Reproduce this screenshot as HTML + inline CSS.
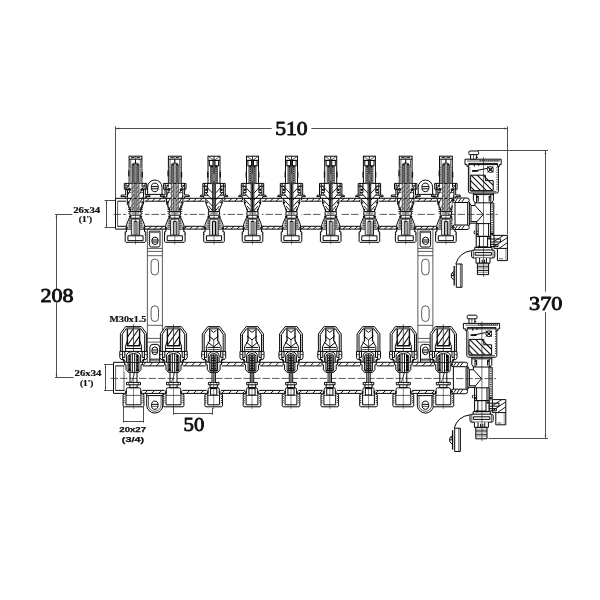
<!DOCTYPE html>
<html><head><meta charset="utf-8"><title>Manifold drawing</title>
<style>
html,body{margin:0;padding:0;background:#fff;}
body{width:600px;height:600px;overflow:hidden;font-family:"Liberation Sans",sans-serif;}
svg{display:block;filter:grayscale(1) blur(0.35px);}
.l{stroke:#080808;stroke-width:1.0;fill:none;}
.lw{stroke:#080808;stroke-width:1.0;fill:#fff;}
.t{stroke:#1a1a1a;stroke-width:0.7;fill:none;}
.h{stroke:#111;stroke-width:0.95;fill:none;}
.bs{stroke:#333;stroke-width:0.8;fill:#fff;}
.k{stroke:#111;stroke-width:1.5;fill:none;}
.d{stroke:#505050;stroke-width:1;fill:none;}
.c{stroke:#333;stroke-width:0.8;fill:none;stroke-dasharray:7.5 2;}
.g{fill:#777;stroke:none;}
.b{fill:#111;stroke:none;}
.big{font-family:"Liberation Serif",serif;font-weight:normal;font-size:19.5px;fill:#111;stroke:#111;stroke-width:0.85px;}
.sm{font-family:"Liberation Serif",serif;font-weight:bold;font-size:8.4px;fill:#111;stroke:#111;stroke-width:0.2px;}
.ss{font-family:"Liberation Sans",sans-serif;font-weight:bold;font-size:7.7px;fill:#111;stroke:#111;stroke-width:0.25px;}
</style></head><body>
<svg width="600" height="600" viewBox="0 0 600 600">
<rect x="0" y="0" width="600" height="600" fill="#fff"/>
<g id="dims">
<line x1="115.50" y1="128.50" x2="271.70" y2="128.50" class="d"/>
<line x1="311.30" y1="128.50" x2="507.50" y2="128.50" class="d"/>
<line x1="115.50" y1="126.30" x2="115.50" y2="198.30" class="d"/>
<line x1="507.50" y1="126.30" x2="507.50" y2="234.50" class="d"/>
<path d="M115.90 128.50L119.10 127.60L119.10 129.40Z" fill="#444"/>
<path d="M507.10 128.50L503.90 129.40L503.90 127.60Z" fill="#444"/>
<line x1="545.50" y1="150.50" x2="545.50" y2="291.70" class="d"/>
<line x1="545.50" y1="312.00" x2="545.50" y2="438.50" class="d"/>
<line x1="477.30" y1="150.50" x2="548.00" y2="150.50" class="d"/>
<line x1="488.50" y1="438.50" x2="548.00" y2="438.50" class="d"/>
<path d="M545.50 150.90L546.40 154.10L544.60 154.10Z" fill="#444"/>
<path d="M545.50 438.10L544.60 434.90L546.40 434.90Z" fill="#444"/>
<line x1="56.50" y1="214.50" x2="56.50" y2="289.60" class="d"/>
<line x1="56.50" y1="302.60" x2="56.50" y2="377.50" class="d"/>
<line x1="55.00" y1="214.50" x2="72.30" y2="214.50" class="d"/>
<line x1="55.00" y1="377.50" x2="73.70" y2="377.50" class="d"/>
<path d="M56.50 214.90L57.40 218.10L55.60 218.10Z" fill="#444"/>
<path d="M56.50 377.10L55.60 373.90L57.40 373.90Z" fill="#444"/>
<line x1="106.50" y1="200.50" x2="106.50" y2="227.50" class="d"/>
<line x1="104.50" y1="200.50" x2="116.00" y2="200.50" class="d"/>
<line x1="104.50" y1="227.50" x2="116.00" y2="227.50" class="d"/>
<path d="M106.50 200.90L107.30 203.50L105.70 203.50Z" fill="#444"/>
<path d="M106.50 227.10L105.70 224.50L107.30 224.50Z" fill="#444"/>
<line x1="105.50" y1="364.50" x2="105.50" y2="390.50" class="d"/>
<line x1="104.00" y1="364.50" x2="114.00" y2="364.50" class="d"/>
<line x1="104.00" y1="390.50" x2="114.00" y2="390.50" class="d"/>
<path d="M105.50 364.90L106.30 367.50L104.70 367.50Z" fill="#444"/>
<path d="M105.50 390.10L104.70 387.50L106.30 387.50Z" fill="#444"/>
<line x1="123.50" y1="421.50" x2="143.50" y2="421.50" class="d"/>
<line x1="123.50" y1="407.00" x2="123.50" y2="422.60" class="d"/>
<line x1="143.50" y1="407.00" x2="143.50" y2="422.60" class="d"/>
<path d="M123.90 421.50L126.50 420.70L126.50 422.30Z" fill="#444"/>
<path d="M143.10 421.50L140.50 422.30L140.50 420.70Z" fill="#444"/>
<line x1="173.50" y1="413.50" x2="212.50" y2="413.50" class="d"/>
<line x1="173.50" y1="386.00" x2="173.50" y2="414.80" class="d"/>
<line x1="212.50" y1="408.00" x2="212.50" y2="414.80" class="d"/>
<path d="M173.90 413.50L176.50 412.70L176.50 414.30Z" fill="#444"/>
<path d="M212.10 413.50L209.50 414.30L209.50 412.70Z" fill="#444"/>
</g>
<g>
<rect x="147.30" y="229.00" width="15.00" height="134.00" class="bs"/>
<path d="M146.20 198.3V194.4H147.60V187.2A7.2 7.2 0 0 1 162.00 187.2V194.4H163.40V198.3" class="lw"/>
<line x1="147.60" y1="194.40" x2="162.00" y2="194.40" class="l"/>
<ellipse cx="154.80" cy="187.4" rx="3.5" ry="4.3" class="lw"/>
<line x1="151.40" y1="186.60" x2="158.20" y2="186.60" class="l"/>
<line x1="151.60" y1="188.80" x2="158.00" y2="188.80" class="l"/>
<path d="M149.60 231.2H160.00V245.2Q160.00 247.0 158.20 247.0H151.40Q149.60 247.0 149.60 245.2Z" class="l"/>
<rect x="150.20" y="231.40" width="9.20" height="1.70" class="g"/>
<path d="M148.90 232V246" stroke="#888" stroke-width="0.9" fill="none" stroke-dasharray="1 1"/>
<ellipse cx="155.00" cy="240.8" rx="3.2" ry="3.7" class="lw"/>
<line x1="151.90" y1="240.00" x2="158.10" y2="240.00" class="l"/>
<line x1="152.20" y1="242.00" x2="157.80" y2="242.00" class="l"/>
<line x1="147.30" y1="248.40" x2="162.30" y2="248.40" class="bs"/>
<line x1="147.30" y1="251.40" x2="162.30" y2="251.40" class="bs"/>
<line x1="147.30" y1="255.70" x2="162.30" y2="255.70" class="bs"/>
<path d="M151.10 262.70A3.7 3.7 0 0 1 158.50 262.70V271.30A3.7 3.7 0 0 1 151.10 271.30Z" class="bs"/>
<path d="M151.10 309.50A3.7 3.7 0 0 1 158.50 309.50V317.80A3.7 3.7 0 0 1 151.10 317.80Z" class="bs"/>
<line x1="147.30" y1="325.30" x2="162.30" y2="325.30" class="bs"/>
<line x1="147.30" y1="338.40" x2="162.30" y2="338.40" class="bs"/>
<line x1="147.30" y1="342.10" x2="162.30" y2="342.10" class="bs"/>
<path d="M149.90 362V347.4Q149.90 344.4 152.90 344.4H156.70Q159.70 344.4 159.70 347.4V362" class="l"/>
<ellipse cx="154.80" cy="350.8" rx="3.0" ry="3.9" class="lw"/>
<line x1="151.90" y1="350.00" x2="157.70" y2="350.00" class="l"/>
<line x1="152.10" y1="352.20" x2="157.50" y2="352.20" class="l"/>
<line x1="149.90" y1="359.20" x2="159.70" y2="359.20" class="l"/>
<line x1="149.90" y1="360.80" x2="159.70" y2="360.80" class="t"/>
<path d="M146.70 393.2V405A8.1 8.1 0 0 0 162.90 405V393.2" class="lw"/>
<path d="M148.50 395.6V405A6.3 6.3 0 0 0 161.10 405V395.6" class="t"/>
<line x1="146.70" y1="395.60" x2="162.90" y2="395.60" class="l"/>
<ellipse cx="154.80" cy="405.2" rx="3.3" ry="4.1" class="lw"/>
<line x1="151.60" y1="404.40" x2="158.00" y2="404.40" class="l"/>
<line x1="151.80" y1="406.40" x2="157.80" y2="406.40" class="t"/>
</g>
<g>
<rect x="417.90" y="229.00" width="15.00" height="134.00" class="bs"/>
<path d="M416.80 198.3V194.4H418.20V187.2A7.2 7.2 0 0 1 432.60 187.2V194.4H434.00V198.3" class="lw"/>
<line x1="418.20" y1="194.40" x2="432.60" y2="194.40" class="l"/>
<ellipse cx="425.40" cy="187.4" rx="3.5" ry="4.3" class="lw"/>
<line x1="422.00" y1="186.60" x2="428.80" y2="186.60" class="l"/>
<line x1="422.20" y1="188.80" x2="428.60" y2="188.80" class="l"/>
<path d="M420.20 231.2H430.60V245.2Q430.60 247.0 428.80 247.0H422.00Q420.20 247.0 420.20 245.2Z" class="l"/>
<rect x="420.80" y="231.40" width="9.20" height="1.70" class="g"/>
<path d="M419.50 232V246" stroke="#888" stroke-width="0.9" fill="none" stroke-dasharray="1 1"/>
<ellipse cx="425.60" cy="240.8" rx="3.2" ry="3.7" class="lw"/>
<line x1="422.50" y1="240.00" x2="428.70" y2="240.00" class="l"/>
<line x1="422.80" y1="242.00" x2="428.40" y2="242.00" class="l"/>
<line x1="417.90" y1="248.40" x2="432.90" y2="248.40" class="bs"/>
<line x1="417.90" y1="251.40" x2="432.90" y2="251.40" class="bs"/>
<line x1="417.90" y1="255.70" x2="432.90" y2="255.70" class="bs"/>
<path d="M421.70 262.70A3.7 3.7 0 0 1 429.10 262.70V271.30A3.7 3.7 0 0 1 421.70 271.30Z" class="bs"/>
<path d="M421.70 309.50A3.7 3.7 0 0 1 429.10 309.50V317.80A3.7 3.7 0 0 1 421.70 317.80Z" class="bs"/>
<line x1="417.90" y1="325.30" x2="432.90" y2="325.30" class="bs"/>
<line x1="417.90" y1="338.40" x2="432.90" y2="338.40" class="bs"/>
<line x1="417.90" y1="342.10" x2="432.90" y2="342.10" class="bs"/>
<path d="M420.50 362V347.4Q420.50 344.4 423.50 344.4H427.30Q430.30 344.4 430.30 347.4V362" class="l"/>
<ellipse cx="425.40" cy="350.8" rx="3.0" ry="3.9" class="lw"/>
<line x1="422.50" y1="350.00" x2="428.30" y2="350.00" class="l"/>
<line x1="422.70" y1="352.20" x2="428.10" y2="352.20" class="l"/>
<line x1="420.50" y1="359.20" x2="430.30" y2="359.20" class="l"/>
<line x1="420.50" y1="360.80" x2="430.30" y2="360.80" class="t"/>
<path d="M417.30 393.2V405A8.1 8.1 0 0 0 433.50 405V393.2" class="lw"/>
<path d="M419.10 395.6V405A6.3 6.3 0 0 0 431.70 405V395.6" class="t"/>
<line x1="417.30" y1="395.60" x2="433.50" y2="395.60" class="l"/>
<ellipse cx="425.40" cy="405.2" rx="3.3" ry="4.1" class="lw"/>
<line x1="422.20" y1="404.40" x2="428.60" y2="404.40" class="l"/>
<line x1="422.40" y1="406.40" x2="428.40" y2="406.40" class="t"/>
</g>
<g>
<rect x="115.50" y="198.30" width="337.70" height="30.80" fill="#fff" stroke="none"/>
<path d="M128.50 201.20L131.80 198.30M134.40 201.20L137.70 198.30M140.30 201.20L143.60 198.30M146.20 201.20L149.50 198.30M152.10 201.20L155.40 198.30M158.00 201.20L161.30 198.30M163.90 201.20L167.20 198.30M169.80 201.20L173.10 198.30M175.70 201.20L179.00 198.30M181.60 201.20L184.90 198.30M187.50 201.20L190.80 198.30M193.40 201.20L196.70 198.30M199.30 201.20L202.60 198.30M205.20 201.20L208.50 198.30M211.10 201.20L214.40 198.30M217.00 201.20L220.30 198.30M222.90 201.20L226.20 198.30M228.80 201.20L232.10 198.30M234.70 201.20L238.00 198.30M240.60 201.20L243.90 198.30M246.50 201.20L249.80 198.30M252.40 201.20L255.70 198.30M258.30 201.20L261.60 198.30M264.20 201.20L267.50 198.30M270.10 201.20L273.40 198.30M276.00 201.20L279.30 198.30M281.90 201.20L285.20 198.30M287.80 201.20L291.10 198.30M293.70 201.20L297.00 198.30M299.60 201.20L302.90 198.30M305.50 201.20L308.80 198.30M311.40 201.20L314.70 198.30M317.30 201.20L320.60 198.30M323.20 201.20L326.50 198.30M329.10 201.20L332.40 198.30M335.00 201.20L338.30 198.30M340.90 201.20L344.20 198.30M346.80 201.20L350.10 198.30M352.70 201.20L356.00 198.30M358.60 201.20L361.90 198.30M364.50 201.20L367.80 198.30M370.40 201.20L373.70 198.30M376.30 201.20L379.60 198.30M382.20 201.20L385.50 198.30M388.10 201.20L391.40 198.30M394.00 201.20L397.30 198.30M399.90 201.20L403.20 198.30M405.80 201.20L409.10 198.30M411.70 201.20L415.00 198.30M417.60 201.20L420.90 198.30M423.50 201.20L426.80 198.30M429.40 201.20L432.70 198.30M435.30 201.20L438.60 198.30M441.20 201.20L444.50 198.30M447.10 201.20L450.40 198.30" class="h"/>
<path d="M130.50 229.10L133.80 226.30M136.40 229.10L139.70 226.30M142.30 229.10L145.60 226.30M148.20 229.10L151.50 226.30M154.10 229.10L157.40 226.30M160.00 229.10L163.30 226.30M165.90 229.10L169.20 226.30M171.80 229.10L175.10 226.30M177.70 229.10L181.00 226.30M183.60 229.10L186.90 226.30M189.50 229.10L192.80 226.30M195.40 229.10L198.70 226.30M201.30 229.10L204.60 226.30M207.20 229.10L210.50 226.30M213.10 229.10L216.40 226.30M219.00 229.10L222.30 226.30M224.90 229.10L228.20 226.30M230.80 229.10L234.10 226.30M236.70 229.10L240.00 226.30M242.60 229.10L245.90 226.30M248.50 229.10L251.80 226.30M254.40 229.10L257.70 226.30M260.30 229.10L263.60 226.30M266.20 229.10L269.50 226.30M272.10 229.10L275.40 226.30M278.00 229.10L281.30 226.30M283.90 229.10L287.20 226.30M289.80 229.10L293.10 226.30M295.70 229.10L299.00 226.30M301.60 229.10L304.90 226.30M307.50 229.10L310.80 226.30M313.40 229.10L316.70 226.30M319.30 229.10L322.60 226.30M325.20 229.10L328.50 226.30M331.10 229.10L334.40 226.30M337.00 229.10L340.30 226.30M342.90 229.10L346.20 226.30M348.80 229.10L352.10 226.30M354.70 229.10L358.00 226.30M360.60 229.10L363.90 226.30M366.50 229.10L369.80 226.30M372.40 229.10L375.70 226.30M378.30 229.10L381.60 226.30M384.20 229.10L387.50 226.30M390.10 229.10L393.40 226.30M396.00 229.10L399.30 226.30M401.90 229.10L405.20 226.30M407.80 229.10L411.10 226.30M413.70 229.10L417.00 226.30M419.60 229.10L422.90 226.30M425.50 229.10L428.80 226.30M431.40 229.10L434.70 226.30M437.30 229.10L440.60 226.30M443.20 229.10L446.50 226.30M449.10 229.10L452.40 226.30" class="h"/>
<line x1="115.50" y1="198.30" x2="453.20" y2="198.30" class="l"/>
<line x1="117.50" y1="201.20" x2="453.20" y2="201.20" class="l"/>
<line x1="117.50" y1="226.30" x2="453.20" y2="226.30" class="l"/>
<line x1="115.50" y1="229.10" x2="453.20" y2="229.10" class="l"/>
<line x1="115.50" y1="198.30" x2="115.50" y2="229.10" class="l"/>
<line x1="117.60" y1="201.20" x2="117.60" y2="226.30" class="t"/>
<line x1="126.50" y1="201.20" x2="126.50" y2="226.30" class="t"/>
<line x1="113.50" y1="214.40" x2="450.00" y2="214.40" class="c"/>
</g>
<g>
<rect x="113.50" y="362.30" width="338.10" height="31.10" fill="#fff" stroke="none"/>
<path d="M128.50 365.90L131.80 362.30M135.50 365.90L138.80 362.30M142.50 365.90L145.80 362.30M149.50 365.90L152.80 362.30M156.50 365.90L159.80 362.30M163.50 365.90L166.80 362.30M170.50 365.90L173.80 362.30M177.50 365.90L180.80 362.30M184.50 365.90L187.80 362.30M191.50 365.90L194.80 362.30M198.50 365.90L201.80 362.30M205.50 365.90L208.80 362.30M212.50 365.90L215.80 362.30M219.50 365.90L222.80 362.30M226.50 365.90L229.80 362.30M233.50 365.90L236.80 362.30M240.50 365.90L243.80 362.30M247.50 365.90L250.80 362.30M254.50 365.90L257.80 362.30M261.50 365.90L264.80 362.30M268.50 365.90L271.80 362.30M275.50 365.90L278.80 362.30M282.50 365.90L285.80 362.30M289.50 365.90L292.80 362.30M296.50 365.90L299.80 362.30M303.50 365.90L306.80 362.30M310.50 365.90L313.80 362.30M317.50 365.90L320.80 362.30M324.50 365.90L327.80 362.30M331.50 365.90L334.80 362.30M338.50 365.90L341.80 362.30M345.50 365.90L348.80 362.30M352.50 365.90L355.80 362.30M359.50 365.90L362.80 362.30M366.50 365.90L369.80 362.30M373.50 365.90L376.80 362.30M380.50 365.90L383.80 362.30M387.50 365.90L390.80 362.30M394.50 365.90L397.80 362.30M401.50 365.90L404.80 362.30M408.50 365.90L411.80 362.30M415.50 365.90L418.80 362.30M422.50 365.90L425.80 362.30M429.50 365.90L432.80 362.30M436.50 365.90L439.80 362.30M443.50 365.90L446.80 362.30" class="h"/>
<path d="M130.50 393.40L133.80 390.40M137.50 393.40L140.80 390.40M144.50 393.40L147.80 390.40M151.50 393.40L154.80 390.40M158.50 393.40L161.80 390.40M165.50 393.40L168.80 390.40M172.50 393.40L175.80 390.40M179.50 393.40L182.80 390.40M186.50 393.40L189.80 390.40M193.50 393.40L196.80 390.40M200.50 393.40L203.80 390.40M207.50 393.40L210.80 390.40M214.50 393.40L217.80 390.40M221.50 393.40L224.80 390.40M228.50 393.40L231.80 390.40M235.50 393.40L238.80 390.40M242.50 393.40L245.80 390.40M249.50 393.40L252.80 390.40M256.50 393.40L259.80 390.40M263.50 393.40L266.80 390.40M270.50 393.40L273.80 390.40M277.50 393.40L280.80 390.40M284.50 393.40L287.80 390.40M291.50 393.40L294.80 390.40M298.50 393.40L301.80 390.40M305.50 393.40L308.80 390.40M312.50 393.40L315.80 390.40M319.50 393.40L322.80 390.40M326.50 393.40L329.80 390.40M333.50 393.40L336.80 390.40M340.50 393.40L343.80 390.40M347.50 393.40L350.80 390.40M354.50 393.40L357.80 390.40M361.50 393.40L364.80 390.40M368.50 393.40L371.80 390.40M375.50 393.40L378.80 390.40M382.50 393.40L385.80 390.40M389.50 393.40L392.80 390.40M396.50 393.40L399.80 390.40M403.50 393.40L406.80 390.40M410.50 393.40L413.80 390.40M417.50 393.40L420.80 390.40M424.50 393.40L427.80 390.40M431.50 393.40L434.80 390.40M438.50 393.40L441.80 390.40M445.50 393.40L448.80 390.40" class="h"/>
<line x1="113.50" y1="362.30" x2="451.60" y2="362.30" class="l"/>
<line x1="115.50" y1="365.90" x2="451.60" y2="365.90" class="l"/>
<line x1="115.50" y1="390.40" x2="451.60" y2="390.40" class="l"/>
<line x1="113.50" y1="393.40" x2="451.60" y2="393.40" class="l"/>
<line x1="113.50" y1="362.30" x2="113.50" y2="393.40" class="l"/>
<line x1="115.60" y1="365.90" x2="115.60" y2="390.40" class="t"/>
<line x1="124.00" y1="365.90" x2="124.00" y2="390.40" class="t"/>
<line x1="110.50" y1="378.40" x2="448.00" y2="378.40" class="c"/>
</g>
<g transform="translate(135.50 0)">
<path d="M-9.4 197.4H9.4V230H-9.4Z" fill="#fff" stroke="none"/>
<path d="M-9.0 229.1V231.8H-10.3V241.4L-9.5 242.3H9.5L10.3 241.4V231.8H9.0V229.1" class="lw"/>
<path d="M-7.6 235.8V240.6H7.6V235.8" class="l"/>
<line x1="-7.60" y1="235.80" x2="7.60" y2="235.80" class="l"/>
<path d="M-10.3 233.4L-9.5 234.2L-10.3 235M10.3 233.4L9.5 234.2L10.3 235" class="t"/>
<path d="M-6.3 218.2L-8.8 224.3L-9.5 229.1H9.5L8.8 224.3L6.3 218.2Z" class="lw"/>
<path d="M-5.9 219.4L-8.2 225.2V228.6H-4.6V219.4ZM5.9 219.4L8.2 225.2V228.6H4.6V219.4Z" fill="#b0b0b0" stroke="none"/>
<path d="M-5.6 219.6V228.4M5.6 219.6V228.4" stroke="#333" stroke-width="1.8" fill="none" stroke-dasharray="0.8 1.0"/>
<path d="M-4.1 235.0V220.2Q-4.1 219.0 -2.9 219.0H2.9Q4.1 219.0 4.1 220.2V235.0" class="lw"/>
<path d="M-1.5 235.0V221.4H1.5V235.0" class="l"/>
<rect x="2.00" y="221.40" width="1.70" height="13.40" fill="#aaa" stroke="none"/>
<rect x="-3.70" y="221.40" width="1.70" height="13.40" fill="#e4e4e4" stroke="none"/>
<line x1="-4.10" y1="235.00" x2="4.10" y2="235.00" class="t"/>
<circle cx="-5.30" cy="216.80" r="1.30" class="b"/>
<circle cx="5.30" cy="216.80" r="1.30" class="b"/>
<circle cx="-8.60" cy="227.90" r="1.00" class="b"/>
<circle cx="8.60" cy="227.90" r="1.00" class="b"/>
<path d="M-5.6 211.6H5.6V215.2H-5.6Z" class="lw"/>
<rect x="-3.60" y="212.40" width="7.20" height="2.00" fill="#999" stroke="none"/>
<path d="M-8.2 198.3V203.0L-5.6 209.4L-5.0 211.6H5.0L5.6 209.4L8.2 203.0V198.3Z" class="lw"/>
<circle cx="-7.20" cy="202.60" r="1.00" class="b"/>
<circle cx="7.20" cy="202.60" r="1.00" class="b"/>
<circle cx="-5.20" cy="209.60" r="0.90" class="b"/>
<circle cx="5.20" cy="209.60" r="0.90" class="b"/>
<path d="M-11.2 183.4H11.2V189.2H9.8V195.0H14.2L14.6 196.6H9.8V198.3H-9.8V196.6H-14.6L-14.2 195.0H-9.8V189.2H-11.2Z" class="lw"/>
<path d="M-9.6 183.4V189.2M9.6 183.4V189.2" class="l"/>
<path d="M-6.6 183.4V187.4M6.6 183.4V187.4" class="l"/>
<path d="M-9.6 185.6H-6.6M9.6 185.6H6.6" class="t"/>
<line x1="-9.80" y1="189.20" x2="-5.00" y2="189.20" class="l"/>
<line x1="9.80" y1="189.20" x2="5.00" y2="189.20" class="l"/>
<circle cx="-6.20" cy="189.40" r="1.30" class="b"/>
<circle cx="6.20" cy="189.80" r="1.30" class="b"/>
<path d="M-8.0 189.2V197.6M8.0 189.2V197.6" class="l"/>
<path d="M-8.0 192.6H-4.4M8.0 192.6H4.4" class="t"/>
<rect x="-6.40" y="156.20" width="12.80" height="27.20" class="lw"/>
<line x1="-6.40" y1="159.20" x2="6.40" y2="159.20" class="l"/>
<path d="M-4.4 157.7H-1.0M1.0 157.7H4.4" class="l"/>
<path d="M-4.8 159.2V183.4M4.8 159.2V183.4" class="t"/>
<rect x="-6.00" y="167.00" width="1.50" height="16.40" fill="#b5b5b5" stroke="none"/>
<rect x="4.50" y="167.00" width="1.50" height="16.40" fill="#b5b5b5" stroke="none"/>
<path d="M-5.25 167V183.4M5.25 167V183.4" stroke="#555" stroke-width="1.3" fill="none" stroke-dasharray="0.8 1.1"/>
<rect x="-3.50" y="164.60" width="2.30" height="19.40" fill="#858585" stroke="none"/>
<rect x="1.20" y="164.60" width="2.30" height="19.40" fill="#858585" stroke="none"/>
<rect x="-3.50" y="184.00" width="2.30" height="27.00" fill="#c4c4c4" stroke="none"/>
<rect x="1.20" y="184.00" width="2.30" height="27.00" fill="#c4c4c4" stroke="none"/>
<path d="M-3.5 164.6V211M-1.2 162.4V211M1.2 162.4V211M3.5 164.6V211" stroke="#1a1a1a" stroke-width="0.65" fill="none"/>
<path d="M-3.5 167.60L-1.2 164.80M1.2 167.60L3.5 164.80M-3.5 170.00L-1.2 167.20M1.2 170.00L3.5 167.20M-3.5 172.40L-1.2 169.60M1.2 172.40L3.5 169.60M-3.5 174.80L-1.2 172.00M1.2 174.80L3.5 172.00M-3.5 177.20L-1.2 174.40M1.2 177.20L3.5 174.40M-3.5 179.60L-1.2 176.80M1.2 179.60L3.5 176.80M-3.5 182.00L-1.2 179.20M1.2 182.00L3.5 179.20M-3.5 184.40L-1.2 181.60M1.2 184.40L3.5 181.60" stroke="#333" stroke-width="0.7" fill="none"/>
<path d="M-3.5 189.00L-1.2 185.60M1.2 189.00L3.5 185.60M-3.5 193.20L-1.2 189.80M1.2 193.20L3.5 189.80M-3.5 197.40L-1.2 194.00M1.2 197.40L3.5 194.00M-3.5 201.60L-1.2 198.20M1.2 201.60L3.5 198.20M-3.5 205.80L-1.2 202.40M1.2 205.80L3.5 202.40M-3.5 210.00L-1.2 206.60M1.2 210.00L3.5 206.60" stroke="#333" stroke-width="0.7" fill="none"/>
<rect x="-3.30" y="163.40" width="2.10" height="1.90" class="b"/>
<rect x="1.20" y="163.40" width="2.10" height="1.90" class="b"/>
<line x1="0.00" y1="159.20" x2="0.00" y2="164.00" class="l"/>
<rect x="-7.30" y="170.40" width="1.20" height="6.00" class="b"/>
<rect x="6.10" y="171.80" width="1.30" height="5.80" class="b"/>
<path d="M-9.0 197.0L-4.2 188.4M4.2 193.6L9.0 185.4M-8.2 204.6L-4.2 198.0M4.2 203.0L8.2 196.0M-6.4 210.0L-4.2 206.4M4.2 209.6L6.6 205.0M-10.0 190.6L-7.0 185.2" class="h"/>
<path d="M-6.6 201.6V213.4M6.6 201.6V213.4" stroke="#222" stroke-width="1.7" fill="none" stroke-dasharray="0.9 1.0"/>
<line x1="0.00" y1="156.20" x2="0.00" y2="244.50" class="t" opacity="0.75"/>
</g>
<g transform="translate(174.80 0)">
<path d="M-9.4 197.4H9.4V230H-9.4Z" fill="#fff" stroke="none"/>
<path d="M-9.0 229.1V231.8H-10.3V241.4L-9.5 242.3H9.5L10.3 241.4V231.8H9.0V229.1" class="lw"/>
<path d="M-7.6 235.8V240.6H7.6V235.8" class="l"/>
<line x1="-7.60" y1="235.80" x2="7.60" y2="235.80" class="l"/>
<path d="M-10.3 233.4L-9.5 234.2L-10.3 235M10.3 233.4L9.5 234.2L10.3 235" class="t"/>
<path d="M-6.3 218.2L-8.8 224.3L-9.5 229.1H9.5L8.8 224.3L6.3 218.2Z" class="lw"/>
<path d="M-5.9 219.4L-8.2 225.2V228.6H-4.6V219.4ZM5.9 219.4L8.2 225.2V228.6H4.6V219.4Z" fill="#b0b0b0" stroke="none"/>
<path d="M-5.6 219.6V228.4M5.6 219.6V228.4" stroke="#333" stroke-width="1.8" fill="none" stroke-dasharray="0.8 1.0"/>
<path d="M-4.1 235.0V220.2Q-4.1 219.0 -2.9 219.0H2.9Q4.1 219.0 4.1 220.2V235.0" class="lw"/>
<path d="M-1.5 235.0V221.4H1.5V235.0" class="l"/>
<rect x="2.00" y="221.40" width="1.70" height="13.40" fill="#aaa" stroke="none"/>
<rect x="-3.70" y="221.40" width="1.70" height="13.40" fill="#e4e4e4" stroke="none"/>
<line x1="-4.10" y1="235.00" x2="4.10" y2="235.00" class="t"/>
<circle cx="-5.30" cy="216.80" r="1.30" class="b"/>
<circle cx="5.30" cy="216.80" r="1.30" class="b"/>
<circle cx="-8.60" cy="227.90" r="1.00" class="b"/>
<circle cx="8.60" cy="227.90" r="1.00" class="b"/>
<path d="M-5.6 211.6H5.6V215.2H-5.6Z" class="lw"/>
<rect x="-3.60" y="212.40" width="7.20" height="2.00" fill="#999" stroke="none"/>
<path d="M-8.2 198.3V203.0L-5.6 209.4L-5.0 211.6H5.0L5.6 209.4L8.2 203.0V198.3Z" class="lw"/>
<circle cx="-7.20" cy="202.60" r="1.00" class="b"/>
<circle cx="7.20" cy="202.60" r="1.00" class="b"/>
<circle cx="-5.20" cy="209.60" r="0.90" class="b"/>
<circle cx="5.20" cy="209.60" r="0.90" class="b"/>
<path d="M-11.2 183.4H11.2V189.2H9.8V195.0H14.2L14.6 196.6H9.8V198.3H-9.8V196.6H-14.6L-14.2 195.0H-9.8V189.2H-11.2Z" class="lw"/>
<path d="M-9.6 183.4V189.2M9.6 183.4V189.2" class="l"/>
<path d="M-6.6 183.4V187.4M6.6 183.4V187.4" class="l"/>
<path d="M-9.6 185.6H-6.6M9.6 185.6H6.6" class="t"/>
<line x1="-9.80" y1="189.20" x2="-5.00" y2="189.20" class="l"/>
<line x1="9.80" y1="189.20" x2="5.00" y2="189.20" class="l"/>
<circle cx="-6.20" cy="189.40" r="1.30" class="b"/>
<circle cx="6.20" cy="189.80" r="1.30" class="b"/>
<path d="M-8.0 189.2V197.6M8.0 189.2V197.6" class="l"/>
<path d="M-8.0 192.6H-4.4M8.0 192.6H4.4" class="t"/>
<rect x="-6.40" y="156.20" width="12.80" height="27.20" class="lw"/>
<line x1="-6.40" y1="159.20" x2="6.40" y2="159.20" class="l"/>
<path d="M-4.4 157.7H-1.0M1.0 157.7H4.4" class="l"/>
<path d="M-4.8 159.2V183.4M4.8 159.2V183.4" class="t"/>
<rect x="-6.00" y="167.00" width="1.50" height="16.40" fill="#b5b5b5" stroke="none"/>
<rect x="4.50" y="167.00" width="1.50" height="16.40" fill="#b5b5b5" stroke="none"/>
<path d="M-5.25 167V183.4M5.25 167V183.4" stroke="#555" stroke-width="1.3" fill="none" stroke-dasharray="0.8 1.1"/>
<rect x="-3.50" y="164.60" width="2.30" height="19.40" fill="#858585" stroke="none"/>
<rect x="1.20" y="164.60" width="2.30" height="19.40" fill="#858585" stroke="none"/>
<rect x="-3.50" y="184.00" width="2.30" height="27.00" fill="#c4c4c4" stroke="none"/>
<rect x="1.20" y="184.00" width="2.30" height="27.00" fill="#c4c4c4" stroke="none"/>
<path d="M-3.5 164.6V211M-1.2 162.4V211M1.2 162.4V211M3.5 164.6V211" stroke="#1a1a1a" stroke-width="0.65" fill="none"/>
<path d="M-3.5 167.60L-1.2 164.80M1.2 167.60L3.5 164.80M-3.5 170.00L-1.2 167.20M1.2 170.00L3.5 167.20M-3.5 172.40L-1.2 169.60M1.2 172.40L3.5 169.60M-3.5 174.80L-1.2 172.00M1.2 174.80L3.5 172.00M-3.5 177.20L-1.2 174.40M1.2 177.20L3.5 174.40M-3.5 179.60L-1.2 176.80M1.2 179.60L3.5 176.80M-3.5 182.00L-1.2 179.20M1.2 182.00L3.5 179.20M-3.5 184.40L-1.2 181.60M1.2 184.40L3.5 181.60" stroke="#333" stroke-width="0.7" fill="none"/>
<path d="M-3.5 189.00L-1.2 185.60M1.2 189.00L3.5 185.60M-3.5 193.20L-1.2 189.80M1.2 193.20L3.5 189.80M-3.5 197.40L-1.2 194.00M1.2 197.40L3.5 194.00M-3.5 201.60L-1.2 198.20M1.2 201.60L3.5 198.20M-3.5 205.80L-1.2 202.40M1.2 205.80L3.5 202.40M-3.5 210.00L-1.2 206.60M1.2 210.00L3.5 206.60" stroke="#333" stroke-width="0.7" fill="none"/>
<rect x="-3.30" y="163.40" width="2.10" height="1.90" class="b"/>
<rect x="1.20" y="163.40" width="2.10" height="1.90" class="b"/>
<line x1="0.00" y1="159.20" x2="0.00" y2="164.00" class="l"/>
<rect x="-7.30" y="170.40" width="1.20" height="6.00" class="b"/>
<rect x="6.10" y="171.80" width="1.30" height="5.80" class="b"/>
<path d="M-9.0 197.0L-4.2 188.4M4.2 193.6L9.0 185.4M-8.2 204.6L-4.2 198.0M4.2 203.0L8.2 196.0M-6.4 210.0L-4.2 206.4M4.2 209.6L6.6 205.0M-10.0 190.6L-7.0 185.2" class="h"/>
<path d="M-6.6 201.6V213.4M6.6 201.6V213.4" stroke="#222" stroke-width="1.7" fill="none" stroke-dasharray="0.9 1.0"/>
<line x1="0.00" y1="156.20" x2="0.00" y2="244.50" class="t" opacity="0.75"/>
</g>
<g transform="translate(214.00 0)">
<path d="M-9.4 197.4H9.4V230H-9.4Z" fill="#fff" stroke="none"/>
<path d="M-9.0 229.1V231.8H-10.3V241.4L-9.5 242.3H9.5L10.3 241.4V231.8H9.0V229.1" class="lw"/>
<path d="M-7.6 235.8V240.6H7.6V235.8" class="l"/>
<line x1="-7.60" y1="235.80" x2="7.60" y2="235.80" class="l"/>
<path d="M-10.3 233.4L-9.5 234.2L-10.3 235M10.3 233.4L9.5 234.2L10.3 235" class="t"/>
<path d="M-6.3 218.2L-8.8 224.3L-9.5 229.1H9.5L8.8 224.3L6.3 218.2Z" class="lw"/>
<path d="M-5.9 219.4L-8.2 225.2V228.6H-4.6V219.4ZM5.9 219.4L8.2 225.2V228.6H4.6V219.4Z" fill="#b0b0b0" stroke="none"/>
<path d="M-5.6 219.6V228.4M5.6 219.6V228.4" stroke="#333" stroke-width="1.8" fill="none" stroke-dasharray="0.8 1.0"/>
<path d="M-4.1 235.0V220.2Q-4.1 219.0 -2.9 219.0H2.9Q4.1 219.0 4.1 220.2V235.0" class="lw"/>
<path d="M-1.5 235.0V221.4H1.5V235.0" class="l"/>
<rect x="2.00" y="221.40" width="1.70" height="13.40" fill="#aaa" stroke="none"/>
<rect x="-3.70" y="221.40" width="1.70" height="13.40" fill="#e4e4e4" stroke="none"/>
<line x1="-4.10" y1="235.00" x2="4.10" y2="235.00" class="t"/>
<circle cx="-5.30" cy="216.80" r="1.30" class="b"/>
<circle cx="5.30" cy="216.80" r="1.30" class="b"/>
<circle cx="-8.60" cy="227.90" r="1.00" class="b"/>
<circle cx="8.60" cy="227.90" r="1.00" class="b"/>
<path d="M-5.6 211.6H5.6V215.2H-5.6Z" class="lw"/>
<rect x="-3.60" y="212.40" width="7.20" height="2.00" fill="#999" stroke="none"/>
<path d="M-8.2 198.3V203.0L-5.6 209.4L-5.0 211.6H5.0L5.6 209.4L8.2 203.0V198.3Z" class="lw"/>
<circle cx="-7.20" cy="202.60" r="1.00" class="b"/>
<circle cx="7.20" cy="202.60" r="1.00" class="b"/>
<circle cx="-5.20" cy="209.60" r="0.90" class="b"/>
<circle cx="5.20" cy="209.60" r="0.90" class="b"/>
<path d="M-11.2 183.4H11.2V195.2H13.4L13.9 196.6H10.2V198.3H-10.2V196.6H-13.9L-13.4 195.2H-11.2Z" class="lw"/>
<path d="M-9.4 183.4V195.2M9.4 183.4V195.2" class="l"/>
<path d="M-11.2 186.2H-6.4M11.2 186.2H6.4" class="l"/>
<path d="M-6.4 183.4V192.6H-9.4M6.4 183.4V192.6H9.4" class="l"/>
<circle cx="-7.60" cy="189.80" r="1.20" class="b"/>
<circle cx="7.60" cy="189.80" r="1.20" class="b"/>
<path d="M-11.2 195.2H-6.0M11.2 195.2H6.0" class="l"/>
<rect x="-6.00" y="156.20" width="12.00" height="27.20" class="lw"/>
<path d="M-6.0 156.2L0 160.4L6.0 156.2" class="t"/>
<line x1="-6.00" y1="160.40" x2="6.00" y2="160.40" class="l"/>
<line x1="0.00" y1="156.20" x2="0.00" y2="166.00" class="t"/>
<rect x="-4.60" y="160.40" width="3.60" height="5.40" class="l"/>
<rect x="1.00" y="160.40" width="3.60" height="5.40" class="l"/>
<rect x="-3.60" y="165.80" width="7.20" height="18.00" fill="#939393" stroke="#222" stroke-width="0.6"/>
<rect x="-3.00" y="165.80" width="2.20" height="1.70" class="b"/>
<rect x="0.80" y="165.80" width="2.20" height="1.70" class="b"/>
<path d="M-2.2 167.5V184M2.2 167.5V184" stroke="#2a2a2a" stroke-width="1.3" fill="none" stroke-dasharray="1.0 0.8"/>
<path d="M-0.7 167.5V184M0.7 167.5V184" stroke="#222" stroke-width="0.6" fill="none"/>
<line x1="0.00" y1="174.00" x2="0.00" y2="181.00" stroke="#fff" stroke-width="0.9"/>
<rect x="-6.90" y="171.60" width="1.30" height="6.00" class="b"/>
<rect x="5.60" y="171.60" width="1.30" height="6.00" class="b"/>
<path d="M-1.3 184V211M1.3 184V211" class="l"/>
<line x1="0.00" y1="184.00" x2="0.00" y2="211.60" stroke="#111" stroke-width="1.0"/>
<path d="M-8.6 185.6L-1.4 193.2M8.6 185.6L1.4 193.2M-8.4 192.6L-1.4 200.2M8.4 192.6L1.4 200.2M-7.6 199.6L-1.4 206.4M7.6 199.6L1.4 206.4M-5.4 206.0L-1.4 210.8M5.4 206.0L1.4 210.8" class="h"/>
<line x1="0.00" y1="156.20" x2="0.00" y2="244.50" class="t" opacity="0.75"/>
</g>
<g transform="translate(252.50 0)">
<path d="M-9.4 197.4H9.4V230H-9.4Z" fill="#fff" stroke="none"/>
<path d="M-9.0 229.1V231.8H-10.3V241.4L-9.5 242.3H9.5L10.3 241.4V231.8H9.0V229.1" class="lw"/>
<path d="M-7.6 235.8V240.6H7.6V235.8" class="l"/>
<line x1="-7.60" y1="235.80" x2="7.60" y2="235.80" class="l"/>
<path d="M-10.3 233.4L-9.5 234.2L-10.3 235M10.3 233.4L9.5 234.2L10.3 235" class="t"/>
<path d="M-6.3 218.2L-8.8 224.3L-9.5 229.1H9.5L8.8 224.3L6.3 218.2Z" class="lw"/>
<path d="M-5.9 219.4L-8.2 225.2V228.6H-4.6V219.4ZM5.9 219.4L8.2 225.2V228.6H4.6V219.4Z" fill="#b0b0b0" stroke="none"/>
<path d="M-5.6 219.6V228.4M5.6 219.6V228.4" stroke="#333" stroke-width="1.8" fill="none" stroke-dasharray="0.8 1.0"/>
<path d="M-4.1 235.0V220.2Q-4.1 219.0 -2.9 219.0H2.9Q4.1 219.0 4.1 220.2V235.0" class="lw"/>
<path d="M-1.5 235.0V221.4H1.5V235.0" class="l"/>
<rect x="2.00" y="221.40" width="1.70" height="13.40" fill="#aaa" stroke="none"/>
<rect x="-3.70" y="221.40" width="1.70" height="13.40" fill="#e4e4e4" stroke="none"/>
<line x1="-4.10" y1="235.00" x2="4.10" y2="235.00" class="t"/>
<circle cx="-5.30" cy="216.80" r="1.30" class="b"/>
<circle cx="5.30" cy="216.80" r="1.30" class="b"/>
<circle cx="-8.60" cy="227.90" r="1.00" class="b"/>
<circle cx="8.60" cy="227.90" r="1.00" class="b"/>
<path d="M-5.6 211.6H5.6V215.2H-5.6Z" class="lw"/>
<rect x="-3.60" y="212.40" width="7.20" height="2.00" fill="#999" stroke="none"/>
<path d="M-8.2 198.3V203.0L-5.6 209.4L-5.0 211.6H5.0L5.6 209.4L8.2 203.0V198.3Z" class="lw"/>
<circle cx="-7.20" cy="202.60" r="1.00" class="b"/>
<circle cx="7.20" cy="202.60" r="1.00" class="b"/>
<circle cx="-5.20" cy="209.60" r="0.90" class="b"/>
<circle cx="5.20" cy="209.60" r="0.90" class="b"/>
<path d="M-11.2 183.4H11.2V195.2H13.4L13.9 196.6H10.2V198.3H-10.2V196.6H-13.9L-13.4 195.2H-11.2Z" class="lw"/>
<path d="M-9.4 183.4V195.2M9.4 183.4V195.2" class="l"/>
<path d="M-11.2 186.2H-6.4M11.2 186.2H6.4" class="l"/>
<path d="M-6.4 183.4V192.6H-9.4M6.4 183.4V192.6H9.4" class="l"/>
<circle cx="-7.60" cy="189.80" r="1.20" class="b"/>
<circle cx="7.60" cy="189.80" r="1.20" class="b"/>
<path d="M-11.2 195.2H-6.0M11.2 195.2H6.0" class="l"/>
<rect x="-6.00" y="156.20" width="12.00" height="27.20" class="lw"/>
<path d="M-6.0 156.2L0 160.4L6.0 156.2" class="t"/>
<line x1="-6.00" y1="160.40" x2="6.00" y2="160.40" class="l"/>
<line x1="0.00" y1="156.20" x2="0.00" y2="166.00" class="t"/>
<rect x="-4.60" y="160.40" width="3.60" height="5.40" class="l"/>
<rect x="1.00" y="160.40" width="3.60" height="5.40" class="l"/>
<rect x="-3.60" y="165.80" width="7.20" height="18.00" fill="#939393" stroke="#222" stroke-width="0.6"/>
<rect x="-3.00" y="165.80" width="2.20" height="1.70" class="b"/>
<rect x="0.80" y="165.80" width="2.20" height="1.70" class="b"/>
<path d="M-2.2 167.5V184M2.2 167.5V184" stroke="#2a2a2a" stroke-width="1.3" fill="none" stroke-dasharray="1.0 0.8"/>
<path d="M-0.7 167.5V184M0.7 167.5V184" stroke="#222" stroke-width="0.6" fill="none"/>
<line x1="0.00" y1="174.00" x2="0.00" y2="181.00" stroke="#fff" stroke-width="0.9"/>
<rect x="-6.90" y="171.60" width="1.30" height="6.00" class="b"/>
<rect x="5.60" y="171.60" width="1.30" height="6.00" class="b"/>
<path d="M-1.3 184V211M1.3 184V211" class="l"/>
<line x1="0.00" y1="184.00" x2="0.00" y2="211.60" stroke="#111" stroke-width="1.0"/>
<path d="M-8.6 185.6L-1.4 193.2M8.6 185.6L1.4 193.2M-8.4 192.6L-1.4 200.2M8.4 192.6L1.4 200.2M-7.6 199.6L-1.4 206.4M7.6 199.6L1.4 206.4M-5.4 206.0L-1.4 210.8M5.4 206.0L1.4 210.8" class="h"/>
<line x1="0.00" y1="156.20" x2="0.00" y2="244.50" class="t" opacity="0.75"/>
</g>
<g transform="translate(291.50 0)">
<path d="M-9.4 197.4H9.4V230H-9.4Z" fill="#fff" stroke="none"/>
<path d="M-9.0 229.1V231.8H-10.3V241.4L-9.5 242.3H9.5L10.3 241.4V231.8H9.0V229.1" class="lw"/>
<path d="M-7.6 235.8V240.6H7.6V235.8" class="l"/>
<line x1="-7.60" y1="235.80" x2="7.60" y2="235.80" class="l"/>
<path d="M-10.3 233.4L-9.5 234.2L-10.3 235M10.3 233.4L9.5 234.2L10.3 235" class="t"/>
<path d="M-6.3 218.2L-8.8 224.3L-9.5 229.1H9.5L8.8 224.3L6.3 218.2Z" class="lw"/>
<path d="M-5.9 219.4L-8.2 225.2V228.6H-4.6V219.4ZM5.9 219.4L8.2 225.2V228.6H4.6V219.4Z" fill="#b0b0b0" stroke="none"/>
<path d="M-5.6 219.6V228.4M5.6 219.6V228.4" stroke="#333" stroke-width="1.8" fill="none" stroke-dasharray="0.8 1.0"/>
<path d="M-4.1 235.0V220.2Q-4.1 219.0 -2.9 219.0H2.9Q4.1 219.0 4.1 220.2V235.0" class="lw"/>
<path d="M-1.5 235.0V221.4H1.5V235.0" class="l"/>
<rect x="2.00" y="221.40" width="1.70" height="13.40" fill="#aaa" stroke="none"/>
<rect x="-3.70" y="221.40" width="1.70" height="13.40" fill="#e4e4e4" stroke="none"/>
<line x1="-4.10" y1="235.00" x2="4.10" y2="235.00" class="t"/>
<circle cx="-5.30" cy="216.80" r="1.30" class="b"/>
<circle cx="5.30" cy="216.80" r="1.30" class="b"/>
<circle cx="-8.60" cy="227.90" r="1.00" class="b"/>
<circle cx="8.60" cy="227.90" r="1.00" class="b"/>
<path d="M-5.6 211.6H5.6V215.2H-5.6Z" class="lw"/>
<rect x="-3.60" y="212.40" width="7.20" height="2.00" fill="#999" stroke="none"/>
<path d="M-8.2 198.3V203.0L-5.6 209.4L-5.0 211.6H5.0L5.6 209.4L8.2 203.0V198.3Z" class="lw"/>
<circle cx="-7.20" cy="202.60" r="1.00" class="b"/>
<circle cx="7.20" cy="202.60" r="1.00" class="b"/>
<circle cx="-5.20" cy="209.60" r="0.90" class="b"/>
<circle cx="5.20" cy="209.60" r="0.90" class="b"/>
<path d="M-11.2 183.4H11.2V195.2H13.4L13.9 196.6H10.2V198.3H-10.2V196.6H-13.9L-13.4 195.2H-11.2Z" class="lw"/>
<path d="M-9.4 183.4V195.2M9.4 183.4V195.2" class="l"/>
<path d="M-11.2 186.2H-6.4M11.2 186.2H6.4" class="l"/>
<path d="M-6.4 183.4V192.6H-9.4M6.4 183.4V192.6H9.4" class="l"/>
<circle cx="-7.60" cy="189.80" r="1.20" class="b"/>
<circle cx="7.60" cy="189.80" r="1.20" class="b"/>
<path d="M-11.2 195.2H-6.0M11.2 195.2H6.0" class="l"/>
<rect x="-6.00" y="156.20" width="12.00" height="27.20" class="lw"/>
<path d="M-6.0 156.2L0 160.4L6.0 156.2" class="t"/>
<line x1="-6.00" y1="160.40" x2="6.00" y2="160.40" class="l"/>
<line x1="0.00" y1="156.20" x2="0.00" y2="166.00" class="t"/>
<rect x="-4.60" y="160.40" width="3.60" height="5.40" class="l"/>
<rect x="1.00" y="160.40" width="3.60" height="5.40" class="l"/>
<rect x="-3.60" y="165.80" width="7.20" height="18.00" fill="#939393" stroke="#222" stroke-width="0.6"/>
<rect x="-3.00" y="165.80" width="2.20" height="1.70" class="b"/>
<rect x="0.80" y="165.80" width="2.20" height="1.70" class="b"/>
<path d="M-2.2 167.5V184M2.2 167.5V184" stroke="#2a2a2a" stroke-width="1.3" fill="none" stroke-dasharray="1.0 0.8"/>
<path d="M-0.7 167.5V184M0.7 167.5V184" stroke="#222" stroke-width="0.6" fill="none"/>
<line x1="0.00" y1="174.00" x2="0.00" y2="181.00" stroke="#fff" stroke-width="0.9"/>
<rect x="-6.90" y="171.60" width="1.30" height="6.00" class="b"/>
<rect x="5.60" y="171.60" width="1.30" height="6.00" class="b"/>
<path d="M-1.3 184V211M1.3 184V211" class="l"/>
<line x1="0.00" y1="184.00" x2="0.00" y2="211.60" stroke="#111" stroke-width="1.0"/>
<path d="M-8.6 185.6L-1.4 193.2M8.6 185.6L1.4 193.2M-8.4 192.6L-1.4 200.2M8.4 192.6L1.4 200.2M-7.6 199.6L-1.4 206.4M7.6 199.6L1.4 206.4M-5.4 206.0L-1.4 210.8M5.4 206.0L1.4 210.8" class="h"/>
<line x1="0.00" y1="156.20" x2="0.00" y2="244.50" class="t" opacity="0.75"/>
</g>
<g transform="translate(330.70 0)">
<path d="M-9.4 197.4H9.4V230H-9.4Z" fill="#fff" stroke="none"/>
<path d="M-9.0 229.1V231.8H-10.3V241.4L-9.5 242.3H9.5L10.3 241.4V231.8H9.0V229.1" class="lw"/>
<path d="M-7.6 235.8V240.6H7.6V235.8" class="l"/>
<line x1="-7.60" y1="235.80" x2="7.60" y2="235.80" class="l"/>
<path d="M-10.3 233.4L-9.5 234.2L-10.3 235M10.3 233.4L9.5 234.2L10.3 235" class="t"/>
<path d="M-6.3 218.2L-8.8 224.3L-9.5 229.1H9.5L8.8 224.3L6.3 218.2Z" class="lw"/>
<path d="M-5.9 219.4L-8.2 225.2V228.6H-4.6V219.4ZM5.9 219.4L8.2 225.2V228.6H4.6V219.4Z" fill="#b0b0b0" stroke="none"/>
<path d="M-5.6 219.6V228.4M5.6 219.6V228.4" stroke="#333" stroke-width="1.8" fill="none" stroke-dasharray="0.8 1.0"/>
<path d="M-4.1 235.0V220.2Q-4.1 219.0 -2.9 219.0H2.9Q4.1 219.0 4.1 220.2V235.0" class="lw"/>
<path d="M-1.5 235.0V221.4H1.5V235.0" class="l"/>
<rect x="2.00" y="221.40" width="1.70" height="13.40" fill="#aaa" stroke="none"/>
<rect x="-3.70" y="221.40" width="1.70" height="13.40" fill="#e4e4e4" stroke="none"/>
<line x1="-4.10" y1="235.00" x2="4.10" y2="235.00" class="t"/>
<circle cx="-5.30" cy="216.80" r="1.30" class="b"/>
<circle cx="5.30" cy="216.80" r="1.30" class="b"/>
<circle cx="-8.60" cy="227.90" r="1.00" class="b"/>
<circle cx="8.60" cy="227.90" r="1.00" class="b"/>
<path d="M-5.6 211.6H5.6V215.2H-5.6Z" class="lw"/>
<rect x="-3.60" y="212.40" width="7.20" height="2.00" fill="#999" stroke="none"/>
<path d="M-8.2 198.3V203.0L-5.6 209.4L-5.0 211.6H5.0L5.6 209.4L8.2 203.0V198.3Z" class="lw"/>
<circle cx="-7.20" cy="202.60" r="1.00" class="b"/>
<circle cx="7.20" cy="202.60" r="1.00" class="b"/>
<circle cx="-5.20" cy="209.60" r="0.90" class="b"/>
<circle cx="5.20" cy="209.60" r="0.90" class="b"/>
<path d="M-11.2 183.4H11.2V195.2H13.4L13.9 196.6H10.2V198.3H-10.2V196.6H-13.9L-13.4 195.2H-11.2Z" class="lw"/>
<path d="M-9.4 183.4V195.2M9.4 183.4V195.2" class="l"/>
<path d="M-11.2 186.2H-6.4M11.2 186.2H6.4" class="l"/>
<path d="M-6.4 183.4V192.6H-9.4M6.4 183.4V192.6H9.4" class="l"/>
<circle cx="-7.60" cy="189.80" r="1.20" class="b"/>
<circle cx="7.60" cy="189.80" r="1.20" class="b"/>
<path d="M-11.2 195.2H-6.0M11.2 195.2H6.0" class="l"/>
<rect x="-6.00" y="156.20" width="12.00" height="27.20" class="lw"/>
<path d="M-6.0 156.2L0 160.4L6.0 156.2" class="t"/>
<line x1="-6.00" y1="160.40" x2="6.00" y2="160.40" class="l"/>
<line x1="0.00" y1="156.20" x2="0.00" y2="166.00" class="t"/>
<rect x="-4.60" y="160.40" width="3.60" height="5.40" class="l"/>
<rect x="1.00" y="160.40" width="3.60" height="5.40" class="l"/>
<rect x="-3.60" y="165.80" width="7.20" height="18.00" fill="#939393" stroke="#222" stroke-width="0.6"/>
<rect x="-3.00" y="165.80" width="2.20" height="1.70" class="b"/>
<rect x="0.80" y="165.80" width="2.20" height="1.70" class="b"/>
<path d="M-2.2 167.5V184M2.2 167.5V184" stroke="#2a2a2a" stroke-width="1.3" fill="none" stroke-dasharray="1.0 0.8"/>
<path d="M-0.7 167.5V184M0.7 167.5V184" stroke="#222" stroke-width="0.6" fill="none"/>
<line x1="0.00" y1="174.00" x2="0.00" y2="181.00" stroke="#fff" stroke-width="0.9"/>
<rect x="-6.90" y="171.60" width="1.30" height="6.00" class="b"/>
<rect x="5.60" y="171.60" width="1.30" height="6.00" class="b"/>
<path d="M-1.3 184V211M1.3 184V211" class="l"/>
<line x1="0.00" y1="184.00" x2="0.00" y2="211.60" stroke="#111" stroke-width="1.0"/>
<path d="M-8.6 185.6L-1.4 193.2M8.6 185.6L1.4 193.2M-8.4 192.6L-1.4 200.2M8.4 192.6L1.4 200.2M-7.6 199.6L-1.4 206.4M7.6 199.6L1.4 206.4M-5.4 206.0L-1.4 210.8M5.4 206.0L1.4 210.8" class="h"/>
<line x1="0.00" y1="156.20" x2="0.00" y2="244.50" class="t" opacity="0.75"/>
</g>
<g transform="translate(369.40 0)">
<path d="M-9.4 197.4H9.4V230H-9.4Z" fill="#fff" stroke="none"/>
<path d="M-9.0 229.1V231.8H-10.3V241.4L-9.5 242.3H9.5L10.3 241.4V231.8H9.0V229.1" class="lw"/>
<path d="M-7.6 235.8V240.6H7.6V235.8" class="l"/>
<line x1="-7.60" y1="235.80" x2="7.60" y2="235.80" class="l"/>
<path d="M-10.3 233.4L-9.5 234.2L-10.3 235M10.3 233.4L9.5 234.2L10.3 235" class="t"/>
<path d="M-6.3 218.2L-8.8 224.3L-9.5 229.1H9.5L8.8 224.3L6.3 218.2Z" class="lw"/>
<path d="M-5.9 219.4L-8.2 225.2V228.6H-4.6V219.4ZM5.9 219.4L8.2 225.2V228.6H4.6V219.4Z" fill="#b0b0b0" stroke="none"/>
<path d="M-5.6 219.6V228.4M5.6 219.6V228.4" stroke="#333" stroke-width="1.8" fill="none" stroke-dasharray="0.8 1.0"/>
<path d="M-4.1 235.0V220.2Q-4.1 219.0 -2.9 219.0H2.9Q4.1 219.0 4.1 220.2V235.0" class="lw"/>
<path d="M-1.5 235.0V221.4H1.5V235.0" class="l"/>
<rect x="2.00" y="221.40" width="1.70" height="13.40" fill="#aaa" stroke="none"/>
<rect x="-3.70" y="221.40" width="1.70" height="13.40" fill="#e4e4e4" stroke="none"/>
<line x1="-4.10" y1="235.00" x2="4.10" y2="235.00" class="t"/>
<circle cx="-5.30" cy="216.80" r="1.30" class="b"/>
<circle cx="5.30" cy="216.80" r="1.30" class="b"/>
<circle cx="-8.60" cy="227.90" r="1.00" class="b"/>
<circle cx="8.60" cy="227.90" r="1.00" class="b"/>
<path d="M-5.6 211.6H5.6V215.2H-5.6Z" class="lw"/>
<rect x="-3.60" y="212.40" width="7.20" height="2.00" fill="#999" stroke="none"/>
<path d="M-8.2 198.3V203.0L-5.6 209.4L-5.0 211.6H5.0L5.6 209.4L8.2 203.0V198.3Z" class="lw"/>
<circle cx="-7.20" cy="202.60" r="1.00" class="b"/>
<circle cx="7.20" cy="202.60" r="1.00" class="b"/>
<circle cx="-5.20" cy="209.60" r="0.90" class="b"/>
<circle cx="5.20" cy="209.60" r="0.90" class="b"/>
<path d="M-11.2 183.4H11.2V195.2H13.4L13.9 196.6H10.2V198.3H-10.2V196.6H-13.9L-13.4 195.2H-11.2Z" class="lw"/>
<path d="M-9.4 183.4V195.2M9.4 183.4V195.2" class="l"/>
<path d="M-11.2 186.2H-6.4M11.2 186.2H6.4" class="l"/>
<path d="M-6.4 183.4V192.6H-9.4M6.4 183.4V192.6H9.4" class="l"/>
<circle cx="-7.60" cy="189.80" r="1.20" class="b"/>
<circle cx="7.60" cy="189.80" r="1.20" class="b"/>
<path d="M-11.2 195.2H-6.0M11.2 195.2H6.0" class="l"/>
<rect x="-6.00" y="156.20" width="12.00" height="27.20" class="lw"/>
<path d="M-6.0 156.2L0 160.4L6.0 156.2" class="t"/>
<line x1="-6.00" y1="160.40" x2="6.00" y2="160.40" class="l"/>
<line x1="0.00" y1="156.20" x2="0.00" y2="166.00" class="t"/>
<rect x="-4.60" y="160.40" width="3.60" height="5.40" class="l"/>
<rect x="1.00" y="160.40" width="3.60" height="5.40" class="l"/>
<rect x="-3.60" y="165.80" width="7.20" height="18.00" fill="#939393" stroke="#222" stroke-width="0.6"/>
<rect x="-3.00" y="165.80" width="2.20" height="1.70" class="b"/>
<rect x="0.80" y="165.80" width="2.20" height="1.70" class="b"/>
<path d="M-2.2 167.5V184M2.2 167.5V184" stroke="#2a2a2a" stroke-width="1.3" fill="none" stroke-dasharray="1.0 0.8"/>
<path d="M-0.7 167.5V184M0.7 167.5V184" stroke="#222" stroke-width="0.6" fill="none"/>
<line x1="0.00" y1="174.00" x2="0.00" y2="181.00" stroke="#fff" stroke-width="0.9"/>
<rect x="-6.90" y="171.60" width="1.30" height="6.00" class="b"/>
<rect x="5.60" y="171.60" width="1.30" height="6.00" class="b"/>
<path d="M-1.3 184V211M1.3 184V211" class="l"/>
<line x1="0.00" y1="184.00" x2="0.00" y2="211.60" stroke="#111" stroke-width="1.0"/>
<path d="M-8.6 185.6L-1.4 193.2M8.6 185.6L1.4 193.2M-8.4 192.6L-1.4 200.2M8.4 192.6L1.4 200.2M-7.6 199.6L-1.4 206.4M7.6 199.6L1.4 206.4M-5.4 206.0L-1.4 210.8M5.4 206.0L1.4 210.8" class="h"/>
<line x1="0.00" y1="156.20" x2="0.00" y2="244.50" class="t" opacity="0.75"/>
</g>
<g transform="translate(405.70 0)">
<path d="M-9.4 197.4H9.4V230H-9.4Z" fill="#fff" stroke="none"/>
<path d="M-9.0 229.1V231.8H-10.3V241.4L-9.5 242.3H9.5L10.3 241.4V231.8H9.0V229.1" class="lw"/>
<path d="M-7.6 235.8V240.6H7.6V235.8" class="l"/>
<line x1="-7.60" y1="235.80" x2="7.60" y2="235.80" class="l"/>
<path d="M-10.3 233.4L-9.5 234.2L-10.3 235M10.3 233.4L9.5 234.2L10.3 235" class="t"/>
<path d="M-6.3 218.2L-8.8 224.3L-9.5 229.1H9.5L8.8 224.3L6.3 218.2Z" class="lw"/>
<path d="M-5.9 219.4L-8.2 225.2V228.6H-4.6V219.4ZM5.9 219.4L8.2 225.2V228.6H4.6V219.4Z" fill="#b0b0b0" stroke="none"/>
<path d="M-5.6 219.6V228.4M5.6 219.6V228.4" stroke="#333" stroke-width="1.8" fill="none" stroke-dasharray="0.8 1.0"/>
<path d="M-4.1 235.0V220.2Q-4.1 219.0 -2.9 219.0H2.9Q4.1 219.0 4.1 220.2V235.0" class="lw"/>
<path d="M-1.5 235.0V221.4H1.5V235.0" class="l"/>
<rect x="2.00" y="221.40" width="1.70" height="13.40" fill="#aaa" stroke="none"/>
<rect x="-3.70" y="221.40" width="1.70" height="13.40" fill="#e4e4e4" stroke="none"/>
<line x1="-4.10" y1="235.00" x2="4.10" y2="235.00" class="t"/>
<circle cx="-5.30" cy="216.80" r="1.30" class="b"/>
<circle cx="5.30" cy="216.80" r="1.30" class="b"/>
<circle cx="-8.60" cy="227.90" r="1.00" class="b"/>
<circle cx="8.60" cy="227.90" r="1.00" class="b"/>
<path d="M-5.6 211.6H5.6V215.2H-5.6Z" class="lw"/>
<rect x="-3.60" y="212.40" width="7.20" height="2.00" fill="#999" stroke="none"/>
<path d="M-8.2 198.3V203.0L-5.6 209.4L-5.0 211.6H5.0L5.6 209.4L8.2 203.0V198.3Z" class="lw"/>
<circle cx="-7.20" cy="202.60" r="1.00" class="b"/>
<circle cx="7.20" cy="202.60" r="1.00" class="b"/>
<circle cx="-5.20" cy="209.60" r="0.90" class="b"/>
<circle cx="5.20" cy="209.60" r="0.90" class="b"/>
<path d="M-11.2 183.4H11.2V189.2H9.8V195.0H14.2L14.6 196.6H9.8V198.3H-9.8V196.6H-14.6L-14.2 195.0H-9.8V189.2H-11.2Z" class="lw"/>
<path d="M-9.6 183.4V189.2M9.6 183.4V189.2" class="l"/>
<path d="M-6.6 183.4V187.4M6.6 183.4V187.4" class="l"/>
<path d="M-9.6 185.6H-6.6M9.6 185.6H6.6" class="t"/>
<line x1="-9.80" y1="189.20" x2="-5.00" y2="189.20" class="l"/>
<line x1="9.80" y1="189.20" x2="5.00" y2="189.20" class="l"/>
<circle cx="-6.20" cy="189.40" r="1.30" class="b"/>
<circle cx="6.20" cy="189.80" r="1.30" class="b"/>
<path d="M-8.0 189.2V197.6M8.0 189.2V197.6" class="l"/>
<path d="M-8.0 192.6H-4.4M8.0 192.6H4.4" class="t"/>
<rect x="-6.40" y="156.20" width="12.80" height="27.20" class="lw"/>
<line x1="-6.40" y1="159.20" x2="6.40" y2="159.20" class="l"/>
<path d="M-4.4 157.7H-1.0M1.0 157.7H4.4" class="l"/>
<path d="M-4.8 159.2V183.4M4.8 159.2V183.4" class="t"/>
<rect x="-6.00" y="167.00" width="1.50" height="16.40" fill="#b5b5b5" stroke="none"/>
<rect x="4.50" y="167.00" width="1.50" height="16.40" fill="#b5b5b5" stroke="none"/>
<path d="M-5.25 167V183.4M5.25 167V183.4" stroke="#555" stroke-width="1.3" fill="none" stroke-dasharray="0.8 1.1"/>
<rect x="-3.50" y="164.60" width="2.30" height="19.40" fill="#858585" stroke="none"/>
<rect x="1.20" y="164.60" width="2.30" height="19.40" fill="#858585" stroke="none"/>
<rect x="-3.50" y="184.00" width="2.30" height="27.00" fill="#c4c4c4" stroke="none"/>
<rect x="1.20" y="184.00" width="2.30" height="27.00" fill="#c4c4c4" stroke="none"/>
<path d="M-3.5 164.6V211M-1.2 162.4V211M1.2 162.4V211M3.5 164.6V211" stroke="#1a1a1a" stroke-width="0.65" fill="none"/>
<path d="M-3.5 167.60L-1.2 164.80M1.2 167.60L3.5 164.80M-3.5 170.00L-1.2 167.20M1.2 170.00L3.5 167.20M-3.5 172.40L-1.2 169.60M1.2 172.40L3.5 169.60M-3.5 174.80L-1.2 172.00M1.2 174.80L3.5 172.00M-3.5 177.20L-1.2 174.40M1.2 177.20L3.5 174.40M-3.5 179.60L-1.2 176.80M1.2 179.60L3.5 176.80M-3.5 182.00L-1.2 179.20M1.2 182.00L3.5 179.20M-3.5 184.40L-1.2 181.60M1.2 184.40L3.5 181.60" stroke="#333" stroke-width="0.7" fill="none"/>
<path d="M-3.5 189.00L-1.2 185.60M1.2 189.00L3.5 185.60M-3.5 193.20L-1.2 189.80M1.2 193.20L3.5 189.80M-3.5 197.40L-1.2 194.00M1.2 197.40L3.5 194.00M-3.5 201.60L-1.2 198.20M1.2 201.60L3.5 198.20M-3.5 205.80L-1.2 202.40M1.2 205.80L3.5 202.40M-3.5 210.00L-1.2 206.60M1.2 210.00L3.5 206.60" stroke="#333" stroke-width="0.7" fill="none"/>
<rect x="-3.30" y="163.40" width="2.10" height="1.90" class="b"/>
<rect x="1.20" y="163.40" width="2.10" height="1.90" class="b"/>
<line x1="0.00" y1="159.20" x2="0.00" y2="164.00" class="l"/>
<rect x="-7.30" y="170.40" width="1.20" height="6.00" class="b"/>
<rect x="6.10" y="171.80" width="1.30" height="5.80" class="b"/>
<path d="M-9.0 197.0L-4.2 188.4M4.2 193.6L9.0 185.4M-8.2 204.6L-4.2 198.0M4.2 203.0L8.2 196.0M-6.4 210.0L-4.2 206.4M4.2 209.6L6.6 205.0M-10.0 190.6L-7.0 185.2" class="h"/>
<path d="M-6.6 201.6V213.4M6.6 201.6V213.4" stroke="#222" stroke-width="1.7" fill="none" stroke-dasharray="0.9 1.0"/>
<line x1="0.00" y1="156.20" x2="0.00" y2="244.50" class="t" opacity="0.75"/>
</g>
<g transform="translate(445.90 0)">
<path d="M-9.4 197.4H9.4V230H-9.4Z" fill="#fff" stroke="none"/>
<path d="M-9.0 229.1V231.8H-10.3V241.4L-9.5 242.3H9.5L10.3 241.4V231.8H9.0V229.1" class="lw"/>
<path d="M-7.6 235.8V240.6H7.6V235.8" class="l"/>
<line x1="-7.60" y1="235.80" x2="7.60" y2="235.80" class="l"/>
<path d="M-10.3 233.4L-9.5 234.2L-10.3 235M10.3 233.4L9.5 234.2L10.3 235" class="t"/>
<path d="M-6.3 218.2L-8.8 224.3L-9.5 229.1H9.5L8.8 224.3L6.3 218.2Z" class="lw"/>
<path d="M-5.9 219.4L-8.2 225.2V228.6H-4.6V219.4ZM5.9 219.4L8.2 225.2V228.6H4.6V219.4Z" fill="#b0b0b0" stroke="none"/>
<path d="M-5.6 219.6V228.4M5.6 219.6V228.4" stroke="#333" stroke-width="1.8" fill="none" stroke-dasharray="0.8 1.0"/>
<path d="M-4.1 235.0V220.2Q-4.1 219.0 -2.9 219.0H2.9Q4.1 219.0 4.1 220.2V235.0" class="lw"/>
<path d="M-1.5 235.0V221.4H1.5V235.0" class="l"/>
<rect x="2.00" y="221.40" width="1.70" height="13.40" fill="#aaa" stroke="none"/>
<rect x="-3.70" y="221.40" width="1.70" height="13.40" fill="#e4e4e4" stroke="none"/>
<line x1="-4.10" y1="235.00" x2="4.10" y2="235.00" class="t"/>
<circle cx="-5.30" cy="216.80" r="1.30" class="b"/>
<circle cx="5.30" cy="216.80" r="1.30" class="b"/>
<circle cx="-8.60" cy="227.90" r="1.00" class="b"/>
<circle cx="8.60" cy="227.90" r="1.00" class="b"/>
<path d="M-5.6 211.6H5.6V215.2H-5.6Z" class="lw"/>
<rect x="-3.60" y="212.40" width="7.20" height="2.00" fill="#999" stroke="none"/>
<path d="M-8.2 198.3V203.0L-5.6 209.4L-5.0 211.6H5.0L5.6 209.4L8.2 203.0V198.3Z" class="lw"/>
<circle cx="-7.20" cy="202.60" r="1.00" class="b"/>
<circle cx="7.20" cy="202.60" r="1.00" class="b"/>
<circle cx="-5.20" cy="209.60" r="0.90" class="b"/>
<circle cx="5.20" cy="209.60" r="0.90" class="b"/>
<path d="M-11.2 183.4H11.2V189.2H9.8V195.0H14.2L14.6 196.6H9.8V198.3H-9.8V196.6H-14.6L-14.2 195.0H-9.8V189.2H-11.2Z" class="lw"/>
<path d="M-9.6 183.4V189.2M9.6 183.4V189.2" class="l"/>
<path d="M-6.6 183.4V187.4M6.6 183.4V187.4" class="l"/>
<path d="M-9.6 185.6H-6.6M9.6 185.6H6.6" class="t"/>
<line x1="-9.80" y1="189.20" x2="-5.00" y2="189.20" class="l"/>
<line x1="9.80" y1="189.20" x2="5.00" y2="189.20" class="l"/>
<circle cx="-6.20" cy="189.40" r="1.30" class="b"/>
<circle cx="6.20" cy="189.80" r="1.30" class="b"/>
<path d="M-8.0 189.2V197.6M8.0 189.2V197.6" class="l"/>
<path d="M-8.0 192.6H-4.4M8.0 192.6H4.4" class="t"/>
<rect x="-6.40" y="156.20" width="12.80" height="27.20" class="lw"/>
<line x1="-6.40" y1="159.20" x2="6.40" y2="159.20" class="l"/>
<path d="M-4.4 157.7H-1.0M1.0 157.7H4.4" class="l"/>
<path d="M-4.8 159.2V183.4M4.8 159.2V183.4" class="t"/>
<rect x="-6.00" y="167.00" width="1.50" height="16.40" fill="#b5b5b5" stroke="none"/>
<rect x="4.50" y="167.00" width="1.50" height="16.40" fill="#b5b5b5" stroke="none"/>
<path d="M-5.25 167V183.4M5.25 167V183.4" stroke="#555" stroke-width="1.3" fill="none" stroke-dasharray="0.8 1.1"/>
<rect x="-3.50" y="164.60" width="2.30" height="19.40" fill="#858585" stroke="none"/>
<rect x="1.20" y="164.60" width="2.30" height="19.40" fill="#858585" stroke="none"/>
<rect x="-3.50" y="184.00" width="2.30" height="27.00" fill="#c4c4c4" stroke="none"/>
<rect x="1.20" y="184.00" width="2.30" height="27.00" fill="#c4c4c4" stroke="none"/>
<path d="M-3.5 164.6V211M-1.2 162.4V211M1.2 162.4V211M3.5 164.6V211" stroke="#1a1a1a" stroke-width="0.65" fill="none"/>
<path d="M-3.5 167.60L-1.2 164.80M1.2 167.60L3.5 164.80M-3.5 170.00L-1.2 167.20M1.2 170.00L3.5 167.20M-3.5 172.40L-1.2 169.60M1.2 172.40L3.5 169.60M-3.5 174.80L-1.2 172.00M1.2 174.80L3.5 172.00M-3.5 177.20L-1.2 174.40M1.2 177.20L3.5 174.40M-3.5 179.60L-1.2 176.80M1.2 179.60L3.5 176.80M-3.5 182.00L-1.2 179.20M1.2 182.00L3.5 179.20M-3.5 184.40L-1.2 181.60M1.2 184.40L3.5 181.60" stroke="#333" stroke-width="0.7" fill="none"/>
<path d="M-3.5 189.00L-1.2 185.60M1.2 189.00L3.5 185.60M-3.5 193.20L-1.2 189.80M1.2 193.20L3.5 189.80M-3.5 197.40L-1.2 194.00M1.2 197.40L3.5 194.00M-3.5 201.60L-1.2 198.20M1.2 201.60L3.5 198.20M-3.5 205.80L-1.2 202.40M1.2 205.80L3.5 202.40M-3.5 210.00L-1.2 206.60M1.2 210.00L3.5 206.60" stroke="#333" stroke-width="0.7" fill="none"/>
<rect x="-3.30" y="163.40" width="2.10" height="1.90" class="b"/>
<rect x="1.20" y="163.40" width="2.10" height="1.90" class="b"/>
<line x1="0.00" y1="159.20" x2="0.00" y2="164.00" class="l"/>
<rect x="-7.30" y="170.40" width="1.20" height="6.00" class="b"/>
<rect x="6.10" y="171.80" width="1.30" height="5.80" class="b"/>
<path d="M-9.0 197.0L-4.2 188.4M4.2 193.6L9.0 185.4M-8.2 204.6L-4.2 198.0M4.2 203.0L8.2 196.0M-6.4 210.0L-4.2 206.4M4.2 209.6L6.6 205.0M-10.0 190.6L-7.0 185.2" class="h"/>
<path d="M-6.6 201.6V213.4M6.6 201.6V213.4" stroke="#222" stroke-width="1.7" fill="none" stroke-dasharray="0.9 1.0"/>
<line x1="0.00" y1="156.20" x2="0.00" y2="244.50" class="t" opacity="0.75"/>
</g>
<g transform="translate(133.50 0)">
<path d="M-9.30 361.2H9.30V372H-9.30Z" fill="#fff" stroke="none"/>
<path d="M-8.80 388H8.80V394H-8.80Z" fill="#fff" stroke="none"/>
<path d="M-6.60 393.2L-10.40 394.6V405.9L-9.60 406.8H9.60L10.40 405.9V394.6L6.60 393.2" class="lw"/>
<path d="M-7.50 392V404.8H7.50V392" class="l"/>
<line x1="-7.50" y1="395.40" x2="7.50" y2="395.40" class="t"/>
<path d="M-9.50 396V404" stroke="#444" stroke-width="1.3" fill="none" stroke-dasharray="0.9 1.1"/>
<path d="M9.50 396V404" stroke="#444" stroke-width="1.3" fill="none" stroke-dasharray="0.9 1.1"/>
<path d="M-7.20 393.2V389.4Q-7.20 387.8 -5.60 387.8H5.60Q7.20 387.8 7.20 389.4V393.2" class="lw"/>
<circle cx="-7.60" cy="392.00" r="0.95" class="b"/>
<circle cx="7.60" cy="392.00" r="0.95" class="b"/>
<path d="M-7.00 382.4H7.00V384.8H-7.00Z" class="lw"/>
<path d="M-4.80 382.4V384.8M4.80 382.4V384.8" class="t"/>
<path d="M-3.6 384.8V387.6H3.6V384.8" class="l"/>
<path d="M-3.50 372.4V382.4M3.50 372.4V382.4" class="l"/>
<path d="M-1.9 382.2L1.3 372.6" class="t"/>
<path d="M-8.90 362H8.90V364.8H7.50V369.6L5.10 372.4H-5.10L-7.50 369.6V364.8H-8.90Z" class="lw"/>
<path d="M-13.70 351.4H13.70V357.6L12.50 359.6H9.50V362H-9.50V359.6H-12.50L-13.70 357.6Z" class="lw"/>
<path d="M-10.90 351.4V359.6M10.90 351.4V359.6" class="l"/>
<path d="M-8.70 351.4V357.4H-10.90M8.70 351.4V357.4H10.90" class="l"/>
<path d="M-13.70 354.6H-10.90M13.70 354.6H10.90" class="t"/>
<circle cx="-9.70" cy="360.60" r="1.00" class="b"/>
<circle cx="9.70" cy="360.60" r="1.00" class="b"/>
<path d="M-7.10 362V356.2Q-7.10 351.8 0 351.6Q7.10 351.8 7.10 356.2V362" class="lw" stroke-width="1.5"/>
<path d="M-5.4 370.6V357Q-5.4 353.8 0 353.6Q5.4 353.8 5.4 357V370.6" class="l"/>
<path d="M-3.7 355.0V370.6M3.7 355.0V370.6" stroke="#0a0a0a" stroke-width="2.0" fill="none"/>
<path d="M-1.2 354V372M1.2 354V372" class="l"/>
<path d="M-3.7 357V369M3.7 358V369" stroke="#ddd" stroke-width="0.6" fill="none" stroke-dasharray="0.8 2.4"/>
<path d="M-5.4 369.6H-2.4V371.4H-5.4ZM5.4 369.6H2.4V371.4H5.4Z" class="b"/>
<path d="M-13.10 351.4V333.60L-7.90 326.6H7.90L13.10 333.60V351.4Z" class="lw"/>
<path d="M-11.20 351.4V334.20L-7.50 328.80H7.50L11.20 334.20V351.4" class="l"/>
<rect x="-6.70" y="326.90" width="13.40" height="1.90" fill="#777" stroke="none"/>
<path d="M-12.15 334.60V351M12.15 334.60V351" stroke="#999" stroke-width="1.0" fill="none" stroke-dasharray="1.2 1.2"/>
<path d="M-6.10 337.10L-0.61 329.20M-6.10 345.31L5.09 329.20M-0.60 345.60L6.10 335.95M5.10 345.60L6.10 344.16" stroke="#111" stroke-width="1.1" fill="none"/>
<path d="M-6.1 329V345.7H6.1V329" stroke="#111" stroke-width="1.4" fill="none"/>
<path d="M-6.1 340.6L-8.1 346.4L-7.8 351.4M6.1 340.6L8.1 346.4L7.8 351.4" class="l"/>
<line x1="-8.10" y1="348.50" x2="8.10" y2="348.50" class="l"/>
<line x1="0.00" y1="324.40" x2="0.00" y2="352.00" class="t"/>
<line x1="0.00" y1="372.00" x2="0.00" y2="409.00" class="t" opacity="0.7"/>
</g>
<g transform="translate(173.50 0)">
<path d="M-9.30 361.2H9.30V372H-9.30Z" fill="#fff" stroke="none"/>
<path d="M-8.80 388H8.80V394H-8.80Z" fill="#fff" stroke="none"/>
<path d="M-6.60 393.2L-10.40 394.6V405.9L-9.60 406.8H9.60L10.40 405.9V394.6L6.60 393.2" class="lw"/>
<path d="M-7.50 392V404.8H7.50V392" class="l"/>
<line x1="-7.50" y1="395.40" x2="7.50" y2="395.40" class="t"/>
<path d="M-9.50 396V404" stroke="#444" stroke-width="1.3" fill="none" stroke-dasharray="0.9 1.1"/>
<path d="M9.50 396V404" stroke="#444" stroke-width="1.3" fill="none" stroke-dasharray="0.9 1.1"/>
<path d="M-7.20 393.2V389.4Q-7.20 387.8 -5.60 387.8H5.60Q7.20 387.8 7.20 389.4V393.2" class="lw"/>
<circle cx="-7.60" cy="392.00" r="0.95" class="b"/>
<circle cx="7.60" cy="392.00" r="0.95" class="b"/>
<path d="M-7.00 382.4H7.00V384.8H-7.00Z" class="lw"/>
<path d="M-4.80 382.4V384.8M4.80 382.4V384.8" class="t"/>
<path d="M-3.6 384.8V387.6H3.6V384.8" class="l"/>
<path d="M-3.50 372.4V382.4M3.50 372.4V382.4" class="l"/>
<path d="M-1.9 382.2L1.3 372.6" class="t"/>
<path d="M-8.90 362H8.90V364.8H7.50V369.6L5.10 372.4H-5.10L-7.50 369.6V364.8H-8.90Z" class="lw"/>
<path d="M-13.70 351.4H13.70V357.6L12.50 359.6H9.50V362H-9.50V359.6H-12.50L-13.70 357.6Z" class="lw"/>
<path d="M-10.90 351.4V359.6M10.90 351.4V359.6" class="l"/>
<path d="M-8.70 351.4V357.4H-10.90M8.70 351.4V357.4H10.90" class="l"/>
<path d="M-13.70 354.6H-10.90M13.70 354.6H10.90" class="t"/>
<circle cx="-9.70" cy="360.60" r="1.00" class="b"/>
<circle cx="9.70" cy="360.60" r="1.00" class="b"/>
<path d="M-7.10 362V356.2Q-7.10 351.8 0 351.6Q7.10 351.8 7.10 356.2V362" class="lw" stroke-width="1.5"/>
<path d="M-5.4 370.6V357Q-5.4 353.8 0 353.6Q5.4 353.8 5.4 357V370.6" class="l"/>
<path d="M-3.7 355.0V370.6M3.7 355.0V370.6" stroke="#0a0a0a" stroke-width="2.0" fill="none"/>
<path d="M-1.2 354V372M1.2 354V372" class="l"/>
<path d="M-3.7 357V369M3.7 358V369" stroke="#ddd" stroke-width="0.6" fill="none" stroke-dasharray="0.8 2.4"/>
<path d="M-5.4 369.6H-2.4V371.4H-5.4ZM5.4 369.6H2.4V371.4H5.4Z" class="b"/>
<path d="M-13.10 351.4V333.60L-7.90 326.6H7.90L13.10 333.60V351.4Z" class="lw"/>
<path d="M-11.20 351.4V334.20L-7.50 328.80H7.50L11.20 334.20V351.4" class="l"/>
<rect x="-6.70" y="326.90" width="13.40" height="1.90" fill="#777" stroke="none"/>
<path d="M-12.15 334.60V351M12.15 334.60V351" stroke="#999" stroke-width="1.0" fill="none" stroke-dasharray="1.2 1.2"/>
<path d="M-6.10 337.10L-0.61 329.20M-6.10 345.31L5.09 329.20M-0.60 345.60L6.10 335.95M5.10 345.60L6.10 344.16" stroke="#111" stroke-width="1.1" fill="none"/>
<path d="M-6.1 329V345.7H6.1V329" stroke="#111" stroke-width="1.4" fill="none"/>
<path d="M-6.1 340.6L-8.1 346.4L-7.8 351.4M6.1 340.6L8.1 346.4L7.8 351.4" class="l"/>
<line x1="-8.10" y1="348.50" x2="8.10" y2="348.50" class="l"/>
<line x1="0.00" y1="324.40" x2="0.00" y2="352.00" class="t"/>
<line x1="0.00" y1="372.00" x2="0.00" y2="409.00" class="t" opacity="0.7"/>
</g>
<g transform="translate(213.70 0)">
<path d="M-8.20 361.2H8.20V372H-8.20Z" fill="#fff" stroke="none"/>
<path d="M-7.20 388H7.20V394H-7.20Z" fill="#fff" stroke="none"/>
<path d="M-5.00 393.2L-8.80 394.6V405.9L-8.00 406.8H8.00L8.80 405.9V394.6L5.00 393.2" class="lw"/>
<path d="M-5.90 392V404.8H5.90V392" class="l"/>
<line x1="-5.90" y1="395.40" x2="5.90" y2="395.40" class="t"/>
<path d="M-7.90 396V404" stroke="#444" stroke-width="1.3" fill="none" stroke-dasharray="0.9 1.1"/>
<path d="M7.90 396V404" stroke="#444" stroke-width="1.3" fill="none" stroke-dasharray="0.9 1.1"/>
<path d="M-5.60 393.2V389.4Q-5.60 387.8 -4.00 387.8H4.00Q5.60 387.8 5.60 389.4V393.2" class="lw"/>
<rect x="-3.10" y="388.60" width="6.20" height="6.40" class="lw"/>
<circle cx="-6.00" cy="392.00" r="0.95" class="b"/>
<circle cx="6.00" cy="392.00" r="0.95" class="b"/>
<path d="M-5.30 382.4H5.30V384.8H-5.30Z" class="lw"/>
<path d="M-3.10 382.4V384.8M3.10 382.4V384.8" class="t"/>
<path d="M-3.6 384.8V387.6H3.6V384.8" class="l"/>
<path d="M-1.70 372.4V382.4M1.70 372.4V382.4" class="l"/>
<rect x="-1.10" y="372.60" width="2.20" height="9.80" fill="#888" stroke="none"/>
<path d="M-7.80 362H7.80V364.8H6.40V369.6L4.00 372.4H-4.00L-6.40 369.6V364.8H-7.80Z" class="lw"/>
<path d="M-12.00 351.4H12.00V357.6L10.80 359.6H7.80V362H-7.80V359.6H-10.80L-12.00 357.6Z" class="lw"/>
<path d="M-9.20 351.4V359.6M9.20 351.4V359.6" class="l"/>
<path d="M-7.00 351.4V357.4H-9.20M7.00 351.4V357.4H9.20" class="l"/>
<path d="M-12.00 354.6H-9.20M12.00 354.6H9.20" class="t"/>
<circle cx="-8.00" cy="360.60" r="1.00" class="b"/>
<circle cx="8.00" cy="360.60" r="1.00" class="b"/>
<path d="M-5.40 362V356.2Q-5.40 351.8 0 351.6Q5.40 351.8 5.40 356.2V362" class="lw" stroke-width="1.5"/>
<path d="M-3.9 370.6V356.4Q-3.9 353.8 0 353.6Q3.9 353.8 3.9 356.4V370.6" class="l"/>
<rect x="-2.90" y="355.20" width="5.80" height="16.00" fill="#1f1f1f" stroke="none"/>
<path d="M-1.3 356V371M1.3 356V371" stroke="#e5e5e5" stroke-width="0.8" fill="none" stroke-dasharray="1.4 1.2"/>
<line x1="0.00" y1="353.60" x2="0.00" y2="372.00" stroke="#111" stroke-width="0.8"/>
<rect x="-3.80" y="369.80" width="7.60" height="1.70" class="b"/>
<path d="M-11.40 351.4V333.90L-5.90 326.6H5.90L11.40 333.90V351.4Z" class="lw"/>
<path d="M-9.50 351.4V334.50L-5.50 328.80H5.50L9.50 334.50V351.4" class="l"/>
<rect x="-4.70" y="326.90" width="9.40" height="1.90" fill="#777" stroke="none"/>
<path d="M-10.45 334.90V351M10.45 334.90V351" stroke="#999" stroke-width="1.0" fill="none" stroke-dasharray="1.2 1.2"/>
<path d="M-4.0 328.6V341.2M4.0 328.6V341.2" stroke="#111" stroke-width="1.3" fill="none"/>
<path d="M-2.8 330.2L0 332.4L2.8 330.2" class="l"/>
<path d="M-4.9 336.0L0 339.8L4.9 336.0" class="l" stroke-width="1.1"/>
<path d="M-6.0 342.0L0 346.8L6.0 342.0" class="l"/>
<path d="M-4.0 340.6L-7.4 346.8L-7.2 351.4M4.0 340.6L7.4 346.8L7.2 351.4" class="l"/>
<line x1="-6.20" y1="347.40" x2="6.20" y2="347.40" class="l"/>
<line x1="-6.20" y1="349.50" x2="6.20" y2="349.50" class="t"/>
<line x1="0.00" y1="339.80" x2="0.00" y2="352.00" class="t"/>
<line x1="0.00" y1="372.00" x2="0.00" y2="409.00" class="t" opacity="0.7"/>
</g>
<g transform="translate(252.00 0)">
<path d="M-8.20 361.2H8.20V372H-8.20Z" fill="#fff" stroke="none"/>
<path d="M-7.20 388H7.20V394H-7.20Z" fill="#fff" stroke="none"/>
<path d="M-5.00 393.2L-8.80 394.6V405.9L-8.00 406.8H8.00L8.80 405.9V394.6L5.00 393.2" class="lw"/>
<path d="M-5.90 392V404.8H5.90V392" class="l"/>
<line x1="-5.90" y1="395.40" x2="5.90" y2="395.40" class="t"/>
<path d="M-7.90 396V404" stroke="#444" stroke-width="1.3" fill="none" stroke-dasharray="0.9 1.1"/>
<path d="M7.90 396V404" stroke="#444" stroke-width="1.3" fill="none" stroke-dasharray="0.9 1.1"/>
<path d="M-5.60 393.2V389.4Q-5.60 387.8 -4.00 387.8H4.00Q5.60 387.8 5.60 389.4V393.2" class="lw"/>
<rect x="-3.10" y="388.60" width="6.20" height="6.40" class="lw"/>
<circle cx="-6.00" cy="392.00" r="0.95" class="b"/>
<circle cx="6.00" cy="392.00" r="0.95" class="b"/>
<path d="M-5.30 382.4H5.30V384.8H-5.30Z" class="lw"/>
<path d="M-3.10 382.4V384.8M3.10 382.4V384.8" class="t"/>
<path d="M-3.6 384.8V387.6H3.6V384.8" class="l"/>
<path d="M-1.70 372.4V382.4M1.70 372.4V382.4" class="l"/>
<rect x="-1.10" y="372.60" width="2.20" height="9.80" fill="#888" stroke="none"/>
<path d="M-7.80 362H7.80V364.8H6.40V369.6L4.00 372.4H-4.00L-6.40 369.6V364.8H-7.80Z" class="lw"/>
<path d="M-12.00 351.4H12.00V357.6L10.80 359.6H7.80V362H-7.80V359.6H-10.80L-12.00 357.6Z" class="lw"/>
<path d="M-9.20 351.4V359.6M9.20 351.4V359.6" class="l"/>
<path d="M-7.00 351.4V357.4H-9.20M7.00 351.4V357.4H9.20" class="l"/>
<path d="M-12.00 354.6H-9.20M12.00 354.6H9.20" class="t"/>
<circle cx="-8.00" cy="360.60" r="1.00" class="b"/>
<circle cx="8.00" cy="360.60" r="1.00" class="b"/>
<path d="M-5.40 362V356.2Q-5.40 351.8 0 351.6Q5.40 351.8 5.40 356.2V362" class="lw" stroke-width="1.5"/>
<path d="M-3.9 370.6V356.4Q-3.9 353.8 0 353.6Q3.9 353.8 3.9 356.4V370.6" class="l"/>
<rect x="-2.90" y="355.20" width="5.80" height="16.00" fill="#1f1f1f" stroke="none"/>
<path d="M-1.3 356V371M1.3 356V371" stroke="#e5e5e5" stroke-width="0.8" fill="none" stroke-dasharray="1.4 1.2"/>
<line x1="0.00" y1="353.60" x2="0.00" y2="372.00" stroke="#111" stroke-width="0.8"/>
<rect x="-3.80" y="369.80" width="7.60" height="1.70" class="b"/>
<path d="M-11.40 351.4V333.90L-5.90 326.6H5.90L11.40 333.90V351.4Z" class="lw"/>
<path d="M-9.50 351.4V334.50L-5.50 328.80H5.50L9.50 334.50V351.4" class="l"/>
<rect x="-4.70" y="326.90" width="9.40" height="1.90" fill="#777" stroke="none"/>
<path d="M-10.45 334.90V351M10.45 334.90V351" stroke="#999" stroke-width="1.0" fill="none" stroke-dasharray="1.2 1.2"/>
<path d="M-4.0 328.6V341.2M4.0 328.6V341.2" stroke="#111" stroke-width="1.3" fill="none"/>
<path d="M-2.8 330.2L0 332.4L2.8 330.2" class="l"/>
<path d="M-4.9 336.0L0 339.8L4.9 336.0" class="l" stroke-width="1.1"/>
<path d="M-6.0 342.0L0 346.8L6.0 342.0" class="l"/>
<path d="M-4.0 340.6L-7.4 346.8L-7.2 351.4M4.0 340.6L7.4 346.8L7.2 351.4" class="l"/>
<line x1="-6.20" y1="347.40" x2="6.20" y2="347.40" class="l"/>
<line x1="-6.20" y1="349.50" x2="6.20" y2="349.50" class="t"/>
<line x1="0.00" y1="339.80" x2="0.00" y2="352.00" class="t"/>
<line x1="0.00" y1="372.00" x2="0.00" y2="409.00" class="t" opacity="0.7"/>
</g>
<g transform="translate(291.00 0)">
<path d="M-8.20 361.2H8.20V372H-8.20Z" fill="#fff" stroke="none"/>
<path d="M-7.20 388H7.20V394H-7.20Z" fill="#fff" stroke="none"/>
<path d="M-5.00 393.2L-8.80 394.6V405.9L-8.00 406.8H8.00L8.80 405.9V394.6L5.00 393.2" class="lw"/>
<path d="M-5.90 392V404.8H5.90V392" class="l"/>
<line x1="-5.90" y1="395.40" x2="5.90" y2="395.40" class="t"/>
<path d="M-7.90 396V404" stroke="#444" stroke-width="1.3" fill="none" stroke-dasharray="0.9 1.1"/>
<path d="M7.90 396V404" stroke="#444" stroke-width="1.3" fill="none" stroke-dasharray="0.9 1.1"/>
<path d="M-5.60 393.2V389.4Q-5.60 387.8 -4.00 387.8H4.00Q5.60 387.8 5.60 389.4V393.2" class="lw"/>
<rect x="-3.10" y="388.60" width="6.20" height="6.40" class="lw"/>
<circle cx="-6.00" cy="392.00" r="0.95" class="b"/>
<circle cx="6.00" cy="392.00" r="0.95" class="b"/>
<path d="M-5.30 382.4H5.30V384.8H-5.30Z" class="lw"/>
<path d="M-3.10 382.4V384.8M3.10 382.4V384.8" class="t"/>
<path d="M-3.6 384.8V387.6H3.6V384.8" class="l"/>
<path d="M-1.70 372.4V382.4M1.70 372.4V382.4" class="l"/>
<rect x="-1.10" y="372.60" width="2.20" height="9.80" fill="#888" stroke="none"/>
<path d="M-7.80 362H7.80V364.8H6.40V369.6L4.00 372.4H-4.00L-6.40 369.6V364.8H-7.80Z" class="lw"/>
<path d="M-12.00 351.4H12.00V357.6L10.80 359.6H7.80V362H-7.80V359.6H-10.80L-12.00 357.6Z" class="lw"/>
<path d="M-9.20 351.4V359.6M9.20 351.4V359.6" class="l"/>
<path d="M-7.00 351.4V357.4H-9.20M7.00 351.4V357.4H9.20" class="l"/>
<path d="M-12.00 354.6H-9.20M12.00 354.6H9.20" class="t"/>
<circle cx="-8.00" cy="360.60" r="1.00" class="b"/>
<circle cx="8.00" cy="360.60" r="1.00" class="b"/>
<path d="M-5.40 362V356.2Q-5.40 351.8 0 351.6Q5.40 351.8 5.40 356.2V362" class="lw" stroke-width="1.5"/>
<path d="M-3.9 370.6V356.4Q-3.9 353.8 0 353.6Q3.9 353.8 3.9 356.4V370.6" class="l"/>
<rect x="-2.90" y="355.20" width="5.80" height="16.00" fill="#1f1f1f" stroke="none"/>
<path d="M-1.3 356V371M1.3 356V371" stroke="#e5e5e5" stroke-width="0.8" fill="none" stroke-dasharray="1.4 1.2"/>
<line x1="0.00" y1="353.60" x2="0.00" y2="372.00" stroke="#111" stroke-width="0.8"/>
<rect x="-3.80" y="369.80" width="7.60" height="1.70" class="b"/>
<path d="M-11.40 351.4V333.90L-5.90 326.6H5.90L11.40 333.90V351.4Z" class="lw"/>
<path d="M-9.50 351.4V334.50L-5.50 328.80H5.50L9.50 334.50V351.4" class="l"/>
<rect x="-4.70" y="326.90" width="9.40" height="1.90" fill="#777" stroke="none"/>
<path d="M-10.45 334.90V351M10.45 334.90V351" stroke="#999" stroke-width="1.0" fill="none" stroke-dasharray="1.2 1.2"/>
<path d="M-4.0 328.6V341.2M4.0 328.6V341.2" stroke="#111" stroke-width="1.3" fill="none"/>
<path d="M-2.8 330.2L0 332.4L2.8 330.2" class="l"/>
<path d="M-4.9 336.0L0 339.8L4.9 336.0" class="l" stroke-width="1.1"/>
<path d="M-6.0 342.0L0 346.8L6.0 342.0" class="l"/>
<path d="M-4.0 340.6L-7.4 346.8L-7.2 351.4M4.0 340.6L7.4 346.8L7.2 351.4" class="l"/>
<line x1="-6.20" y1="347.40" x2="6.20" y2="347.40" class="l"/>
<line x1="-6.20" y1="349.50" x2="6.20" y2="349.50" class="t"/>
<line x1="0.00" y1="339.80" x2="0.00" y2="352.00" class="t"/>
<line x1="0.00" y1="372.00" x2="0.00" y2="409.00" class="t" opacity="0.7"/>
</g>
<g transform="translate(329.80 0)">
<path d="M-8.20 361.2H8.20V372H-8.20Z" fill="#fff" stroke="none"/>
<path d="M-7.20 388H7.20V394H-7.20Z" fill="#fff" stroke="none"/>
<path d="M-5.00 393.2L-8.80 394.6V405.9L-8.00 406.8H8.00L8.80 405.9V394.6L5.00 393.2" class="lw"/>
<path d="M-5.90 392V404.8H5.90V392" class="l"/>
<line x1="-5.90" y1="395.40" x2="5.90" y2="395.40" class="t"/>
<path d="M-7.90 396V404" stroke="#444" stroke-width="1.3" fill="none" stroke-dasharray="0.9 1.1"/>
<path d="M7.90 396V404" stroke="#444" stroke-width="1.3" fill="none" stroke-dasharray="0.9 1.1"/>
<path d="M-5.60 393.2V389.4Q-5.60 387.8 -4.00 387.8H4.00Q5.60 387.8 5.60 389.4V393.2" class="lw"/>
<rect x="-3.10" y="388.60" width="6.20" height="6.40" class="lw"/>
<circle cx="-6.00" cy="392.00" r="0.95" class="b"/>
<circle cx="6.00" cy="392.00" r="0.95" class="b"/>
<path d="M-5.30 382.4H5.30V384.8H-5.30Z" class="lw"/>
<path d="M-3.10 382.4V384.8M3.10 382.4V384.8" class="t"/>
<path d="M-3.6 384.8V387.6H3.6V384.8" class="l"/>
<path d="M-1.70 372.4V382.4M1.70 372.4V382.4" class="l"/>
<rect x="-1.10" y="372.60" width="2.20" height="9.80" fill="#888" stroke="none"/>
<path d="M-7.80 362H7.80V364.8H6.40V369.6L4.00 372.4H-4.00L-6.40 369.6V364.8H-7.80Z" class="lw"/>
<path d="M-12.00 351.4H12.00V357.6L10.80 359.6H7.80V362H-7.80V359.6H-10.80L-12.00 357.6Z" class="lw"/>
<path d="M-9.20 351.4V359.6M9.20 351.4V359.6" class="l"/>
<path d="M-7.00 351.4V357.4H-9.20M7.00 351.4V357.4H9.20" class="l"/>
<path d="M-12.00 354.6H-9.20M12.00 354.6H9.20" class="t"/>
<circle cx="-8.00" cy="360.60" r="1.00" class="b"/>
<circle cx="8.00" cy="360.60" r="1.00" class="b"/>
<path d="M-5.40 362V356.2Q-5.40 351.8 0 351.6Q5.40 351.8 5.40 356.2V362" class="lw" stroke-width="1.5"/>
<path d="M-3.9 370.6V356.4Q-3.9 353.8 0 353.6Q3.9 353.8 3.9 356.4V370.6" class="l"/>
<rect x="-2.90" y="355.20" width="5.80" height="16.00" fill="#1f1f1f" stroke="none"/>
<path d="M-1.3 356V371M1.3 356V371" stroke="#e5e5e5" stroke-width="0.8" fill="none" stroke-dasharray="1.4 1.2"/>
<line x1="0.00" y1="353.60" x2="0.00" y2="372.00" stroke="#111" stroke-width="0.8"/>
<rect x="-3.80" y="369.80" width="7.60" height="1.70" class="b"/>
<path d="M-11.40 351.4V333.90L-5.90 326.6H5.90L11.40 333.90V351.4Z" class="lw"/>
<path d="M-9.50 351.4V334.50L-5.50 328.80H5.50L9.50 334.50V351.4" class="l"/>
<rect x="-4.70" y="326.90" width="9.40" height="1.90" fill="#777" stroke="none"/>
<path d="M-10.45 334.90V351M10.45 334.90V351" stroke="#999" stroke-width="1.0" fill="none" stroke-dasharray="1.2 1.2"/>
<path d="M-4.0 328.6V341.2M4.0 328.6V341.2" stroke="#111" stroke-width="1.3" fill="none"/>
<path d="M-2.8 330.2L0 332.4L2.8 330.2" class="l"/>
<path d="M-4.9 336.0L0 339.8L4.9 336.0" class="l" stroke-width="1.1"/>
<path d="M-6.0 342.0L0 346.8L6.0 342.0" class="l"/>
<path d="M-4.0 340.6L-7.4 346.8L-7.2 351.4M4.0 340.6L7.4 346.8L7.2 351.4" class="l"/>
<line x1="-6.20" y1="347.40" x2="6.20" y2="347.40" class="l"/>
<line x1="-6.20" y1="349.50" x2="6.20" y2="349.50" class="t"/>
<line x1="0.00" y1="339.80" x2="0.00" y2="352.00" class="t"/>
<line x1="0.00" y1="372.00" x2="0.00" y2="409.00" class="t" opacity="0.7"/>
</g>
<g transform="translate(368.50 0)">
<path d="M-8.20 361.2H8.20V372H-8.20Z" fill="#fff" stroke="none"/>
<path d="M-7.20 388H7.20V394H-7.20Z" fill="#fff" stroke="none"/>
<path d="M-5.00 393.2L-8.80 394.6V405.9L-8.00 406.8H8.00L8.80 405.9V394.6L5.00 393.2" class="lw"/>
<path d="M-5.90 392V404.8H5.90V392" class="l"/>
<line x1="-5.90" y1="395.40" x2="5.90" y2="395.40" class="t"/>
<path d="M-7.90 396V404" stroke="#444" stroke-width="1.3" fill="none" stroke-dasharray="0.9 1.1"/>
<path d="M7.90 396V404" stroke="#444" stroke-width="1.3" fill="none" stroke-dasharray="0.9 1.1"/>
<path d="M-5.60 393.2V389.4Q-5.60 387.8 -4.00 387.8H4.00Q5.60 387.8 5.60 389.4V393.2" class="lw"/>
<rect x="-3.10" y="388.60" width="6.20" height="6.40" class="lw"/>
<circle cx="-6.00" cy="392.00" r="0.95" class="b"/>
<circle cx="6.00" cy="392.00" r="0.95" class="b"/>
<path d="M-5.30 382.4H5.30V384.8H-5.30Z" class="lw"/>
<path d="M-3.10 382.4V384.8M3.10 382.4V384.8" class="t"/>
<path d="M-3.6 384.8V387.6H3.6V384.8" class="l"/>
<path d="M-1.70 372.4V382.4M1.70 372.4V382.4" class="l"/>
<rect x="-1.10" y="372.60" width="2.20" height="9.80" fill="#888" stroke="none"/>
<path d="M-7.80 362H7.80V364.8H6.40V369.6L4.00 372.4H-4.00L-6.40 369.6V364.8H-7.80Z" class="lw"/>
<path d="M-12.00 351.4H12.00V357.6L10.80 359.6H7.80V362H-7.80V359.6H-10.80L-12.00 357.6Z" class="lw"/>
<path d="M-9.20 351.4V359.6M9.20 351.4V359.6" class="l"/>
<path d="M-7.00 351.4V357.4H-9.20M7.00 351.4V357.4H9.20" class="l"/>
<path d="M-12.00 354.6H-9.20M12.00 354.6H9.20" class="t"/>
<circle cx="-8.00" cy="360.60" r="1.00" class="b"/>
<circle cx="8.00" cy="360.60" r="1.00" class="b"/>
<path d="M-5.40 362V356.2Q-5.40 351.8 0 351.6Q5.40 351.8 5.40 356.2V362" class="lw" stroke-width="1.5"/>
<path d="M-3.9 370.6V356.4Q-3.9 353.8 0 353.6Q3.9 353.8 3.9 356.4V370.6" class="l"/>
<rect x="-2.90" y="355.20" width="5.80" height="16.00" fill="#1f1f1f" stroke="none"/>
<path d="M-1.3 356V371M1.3 356V371" stroke="#e5e5e5" stroke-width="0.8" fill="none" stroke-dasharray="1.4 1.2"/>
<line x1="0.00" y1="353.60" x2="0.00" y2="372.00" stroke="#111" stroke-width="0.8"/>
<rect x="-3.80" y="369.80" width="7.60" height="1.70" class="b"/>
<path d="M-11.40 351.4V333.90L-5.90 326.6H5.90L11.40 333.90V351.4Z" class="lw"/>
<path d="M-9.50 351.4V334.50L-5.50 328.80H5.50L9.50 334.50V351.4" class="l"/>
<rect x="-4.70" y="326.90" width="9.40" height="1.90" fill="#777" stroke="none"/>
<path d="M-10.45 334.90V351M10.45 334.90V351" stroke="#999" stroke-width="1.0" fill="none" stroke-dasharray="1.2 1.2"/>
<path d="M-4.0 328.6V341.2M4.0 328.6V341.2" stroke="#111" stroke-width="1.3" fill="none"/>
<path d="M-2.8 330.2L0 332.4L2.8 330.2" class="l"/>
<path d="M-4.9 336.0L0 339.8L4.9 336.0" class="l" stroke-width="1.1"/>
<path d="M-6.0 342.0L0 346.8L6.0 342.0" class="l"/>
<path d="M-4.0 340.6L-7.4 346.8L-7.2 351.4M4.0 340.6L7.4 346.8L7.2 351.4" class="l"/>
<line x1="-6.20" y1="347.40" x2="6.20" y2="347.40" class="l"/>
<line x1="-6.20" y1="349.50" x2="6.20" y2="349.50" class="t"/>
<line x1="0.00" y1="339.80" x2="0.00" y2="352.00" class="t"/>
<line x1="0.00" y1="372.00" x2="0.00" y2="409.00" class="t" opacity="0.7"/>
</g>
<g transform="translate(403.30 0)">
<path d="M-9.30 361.2H9.30V372H-9.30Z" fill="#fff" stroke="none"/>
<path d="M-8.80 388H8.80V394H-8.80Z" fill="#fff" stroke="none"/>
<path d="M-6.60 393.2L-10.40 394.6V405.9L-9.60 406.8H9.60L10.40 405.9V394.6L6.60 393.2" class="lw"/>
<path d="M-7.50 392V404.8H7.50V392" class="l"/>
<line x1="-7.50" y1="395.40" x2="7.50" y2="395.40" class="t"/>
<path d="M-9.50 396V404" stroke="#444" stroke-width="1.3" fill="none" stroke-dasharray="0.9 1.1"/>
<path d="M9.50 396V404" stroke="#444" stroke-width="1.3" fill="none" stroke-dasharray="0.9 1.1"/>
<path d="M-7.20 393.2V389.4Q-7.20 387.8 -5.60 387.8H5.60Q7.20 387.8 7.20 389.4V393.2" class="lw"/>
<circle cx="-7.60" cy="392.00" r="0.95" class="b"/>
<circle cx="7.60" cy="392.00" r="0.95" class="b"/>
<path d="M-7.00 382.4H7.00V384.8H-7.00Z" class="lw"/>
<path d="M-4.80 382.4V384.8M4.80 382.4V384.8" class="t"/>
<path d="M-3.6 384.8V387.6H3.6V384.8" class="l"/>
<path d="M-3.50 372.4V382.4M3.50 372.4V382.4" class="l"/>
<path d="M-1.9 382.2L1.3 372.6" class="t"/>
<path d="M-8.90 362H8.90V364.8H7.50V369.6L5.10 372.4H-5.10L-7.50 369.6V364.8H-8.90Z" class="lw"/>
<path d="M-13.70 351.4H13.70V357.6L12.50 359.6H9.50V362H-9.50V359.6H-12.50L-13.70 357.6Z" class="lw"/>
<path d="M-10.90 351.4V359.6M10.90 351.4V359.6" class="l"/>
<path d="M-8.70 351.4V357.4H-10.90M8.70 351.4V357.4H10.90" class="l"/>
<path d="M-13.70 354.6H-10.90M13.70 354.6H10.90" class="t"/>
<circle cx="-9.70" cy="360.60" r="1.00" class="b"/>
<circle cx="9.70" cy="360.60" r="1.00" class="b"/>
<path d="M-7.10 362V356.2Q-7.10 351.8 0 351.6Q7.10 351.8 7.10 356.2V362" class="lw" stroke-width="1.5"/>
<path d="M-5.4 370.6V357Q-5.4 353.8 0 353.6Q5.4 353.8 5.4 357V370.6" class="l"/>
<path d="M-3.7 355.0V370.6M3.7 355.0V370.6" stroke="#0a0a0a" stroke-width="2.0" fill="none"/>
<path d="M-1.2 354V372M1.2 354V372" class="l"/>
<path d="M-3.7 357V369M3.7 358V369" stroke="#ddd" stroke-width="0.6" fill="none" stroke-dasharray="0.8 2.4"/>
<path d="M-5.4 369.6H-2.4V371.4H-5.4ZM5.4 369.6H2.4V371.4H5.4Z" class="b"/>
<path d="M-13.10 351.4V333.60L-7.90 326.6H7.90L13.10 333.60V351.4Z" class="lw"/>
<path d="M-11.20 351.4V334.20L-7.50 328.80H7.50L11.20 334.20V351.4" class="l"/>
<rect x="-6.70" y="326.90" width="13.40" height="1.90" fill="#777" stroke="none"/>
<path d="M-12.15 334.60V351M12.15 334.60V351" stroke="#999" stroke-width="1.0" fill="none" stroke-dasharray="1.2 1.2"/>
<path d="M-6.10 337.10L-0.61 329.20M-6.10 345.31L5.09 329.20M-0.60 345.60L6.10 335.95M5.10 345.60L6.10 344.16" stroke="#111" stroke-width="1.1" fill="none"/>
<path d="M-6.1 329V345.7H6.1V329" stroke="#111" stroke-width="1.4" fill="none"/>
<path d="M-6.1 340.6L-8.1 346.4L-7.8 351.4M6.1 340.6L8.1 346.4L7.8 351.4" class="l"/>
<line x1="-8.10" y1="348.50" x2="8.10" y2="348.50" class="l"/>
<line x1="0.00" y1="324.40" x2="0.00" y2="352.00" class="t"/>
<line x1="0.00" y1="372.00" x2="0.00" y2="409.00" class="t" opacity="0.7"/>
</g>
<g transform="translate(443.30 0)">
<path d="M-9.30 361.2H9.30V372H-9.30Z" fill="#fff" stroke="none"/>
<path d="M-8.80 388H8.80V394H-8.80Z" fill="#fff" stroke="none"/>
<path d="M-6.60 393.2L-10.40 394.6V405.9L-9.60 406.8H9.60L10.40 405.9V394.6L6.60 393.2" class="lw"/>
<path d="M-7.50 392V404.8H7.50V392" class="l"/>
<line x1="-7.50" y1="395.40" x2="7.50" y2="395.40" class="t"/>
<path d="M-9.50 396V404" stroke="#444" stroke-width="1.3" fill="none" stroke-dasharray="0.9 1.1"/>
<path d="M9.50 396V404" stroke="#444" stroke-width="1.3" fill="none" stroke-dasharray="0.9 1.1"/>
<path d="M-7.20 393.2V389.4Q-7.20 387.8 -5.60 387.8H5.60Q7.20 387.8 7.20 389.4V393.2" class="lw"/>
<circle cx="-7.60" cy="392.00" r="0.95" class="b"/>
<circle cx="7.60" cy="392.00" r="0.95" class="b"/>
<path d="M-7.00 382.4H7.00V384.8H-7.00Z" class="lw"/>
<path d="M-4.80 382.4V384.8M4.80 382.4V384.8" class="t"/>
<path d="M-3.6 384.8V387.6H3.6V384.8" class="l"/>
<path d="M-3.50 372.4V382.4M3.50 372.4V382.4" class="l"/>
<path d="M-1.9 382.2L1.3 372.6" class="t"/>
<path d="M-8.90 362H8.90V364.8H7.50V369.6L5.10 372.4H-5.10L-7.50 369.6V364.8H-8.90Z" class="lw"/>
<path d="M-13.70 351.4H13.70V357.6L12.50 359.6H9.50V362H-9.50V359.6H-12.50L-13.70 357.6Z" class="lw"/>
<path d="M-10.90 351.4V359.6M10.90 351.4V359.6" class="l"/>
<path d="M-8.70 351.4V357.4H-10.90M8.70 351.4V357.4H10.90" class="l"/>
<path d="M-13.70 354.6H-10.90M13.70 354.6H10.90" class="t"/>
<circle cx="-9.70" cy="360.60" r="1.00" class="b"/>
<circle cx="9.70" cy="360.60" r="1.00" class="b"/>
<path d="M-7.10 362V356.2Q-7.10 351.8 0 351.6Q7.10 351.8 7.10 356.2V362" class="lw" stroke-width="1.5"/>
<path d="M-5.4 370.6V357Q-5.4 353.8 0 353.6Q5.4 353.8 5.4 357V370.6" class="l"/>
<path d="M-3.7 355.0V370.6M3.7 355.0V370.6" stroke="#0a0a0a" stroke-width="2.0" fill="none"/>
<path d="M-1.2 354V372M1.2 354V372" class="l"/>
<path d="M-3.7 357V369M3.7 358V369" stroke="#ddd" stroke-width="0.6" fill="none" stroke-dasharray="0.8 2.4"/>
<path d="M-5.4 369.6H-2.4V371.4H-5.4ZM5.4 369.6H2.4V371.4H5.4Z" class="b"/>
<path d="M-13.10 351.4V333.60L-7.90 326.6H7.90L13.10 333.60V351.4Z" class="lw"/>
<path d="M-11.20 351.4V334.20L-7.50 328.80H7.50L11.20 334.20V351.4" class="l"/>
<rect x="-6.70" y="326.90" width="13.40" height="1.90" fill="#777" stroke="none"/>
<path d="M-12.15 334.60V351M12.15 334.60V351" stroke="#999" stroke-width="1.0" fill="none" stroke-dasharray="1.2 1.2"/>
<path d="M-6.10 337.10L-0.61 329.20M-6.10 345.31L5.09 329.20M-0.60 345.60L6.10 335.95M5.10 345.60L6.10 344.16" stroke="#111" stroke-width="1.1" fill="none"/>
<path d="M-6.1 329V345.7H6.1V329" stroke="#111" stroke-width="1.4" fill="none"/>
<path d="M-6.1 340.6L-8.1 346.4L-7.8 351.4M6.1 340.6L8.1 346.4L7.8 351.4" class="l"/>
<line x1="-8.10" y1="348.50" x2="8.10" y2="348.50" class="l"/>
<line x1="0.00" y1="324.40" x2="0.00" y2="352.00" class="t"/>
<line x1="0.00" y1="372.00" x2="0.00" y2="409.00" class="t" opacity="0.7"/>
</g>
<g transform="translate(0.00 0.00)">
<path d="M452.7 198.0H469V203L471 205.5V222L469 224.6V229.6H452.7Z" fill="#fff" stroke="none"/>
<path d="M454.6 198.0H467A2.25 2.25 0 0 1 467 202.5H454.6A2.25 2.25 0 0 1 454.6 198.0Z" class="lw"/>
<path d="M454.6 225.0H467A2.25 2.25 0 0 1 467 229.5H454.6A2.25 2.25 0 0 1 454.6 225.0Z" class="lw"/>
<path d="M455.00 202.10L457.60 198.40M458.40 202.10L461.00 198.40M461.80 202.10L464.40 198.40" class="h"/>
<path d="M455.00 229.10L457.60 225.40M458.40 229.10L461.00 225.40M461.80 229.10L464.40 225.40" class="h"/>
<path d="M455.0 202.5V225M467.7 202.5V225M469.4 202.0V225.4" class="l"/>
<path d="M469.2 202.3L471 205.5M469.2 225.2L471 222" class="l"/>
<circle cx="453.60" cy="200.20" r="1.10" class="b"/>
<circle cx="453.60" cy="227.40" r="1.10" class="b"/>
<path d="M470.6 205.5H475V192.8H490.8V203.2H494V248H476.4V223.4H470.6Z" fill="#fff" stroke="none"/>
<path d="M471 205.5V222" class="l"/>
<path d="M471 205.5H475L483.2 214.5L477 221.6H471" class="l"/>
<path d="M475 205.5V201M477 221.6L476.5 223.4V246" class="l"/>
<path d="M470.4 223.2H476.5" class="l"/>
<path d="M490.6 193V246" class="l"/>
<path d="M493.8 203V236" class="l"/>
<path d="M492.3 200V236" stroke="#333" stroke-width="1.6" fill="none" stroke-dasharray="1 1.2"/>
<path d="M490.8 203.2H494" class="t"/>
<line x1="448.00" y1="214.40" x2="497.50" y2="214.40" class="c"/>
<path d="M473.4 192.8H493.4V200.4L491.6 202.8H475.2L473.4 200.4Z" class="lw"/>
<path d="M476.6 194.6V202.8M490.8 194.6V202.8" class="l"/>
<line x1="473.40" y1="194.60" x2="493.40" y2="194.60" class="l"/>
<circle cx="477.60" cy="196.80" r="1.00" class="b"/>
<circle cx="489.80" cy="196.80" r="1.00" class="b"/>
<path d="M478.2 196V201.4M489.2 196V201.4" stroke="#111" stroke-width="1.1" fill="none"/>
<path d="M468.4 164.6H498.4V191.2Q498.4 193 496.6 193H470.2Q468.4 193 468.4 191.2Z" class="lw"/>
<path d="M497.0 167V191" stroke="#333" stroke-width="1.0" fill="none" stroke-dasharray="1.2 1.2"/>
<path d="M469.8 167V191" class="t" opacity="0.7"/>
<line x1="470.50" y1="191.40" x2="496.50" y2="191.40" class="t"/>
<path d="M470.6 175.2H485.4V180.6H493.2V190.6H470.6Z" class="lw"/>
<path d="M470.60 186.70L474.50 190.60M470.60 180.70L480.50 190.60M471.10 175.20L486.50 190.60M477.10 175.20L492.50 190.60M483.10 175.20L493.20 185.30" stroke="#111" stroke-width="1.15" fill="none"/>
<path d="M472.2 171.4L487.2 168.4" class="l"/>
<path d="M472.0 170.0H477.6L478.4 171.8H472.8Z" class="b"/>
<circle cx="490.40" cy="169.50" r="2.90" class="lw"/>
<path d="M487.4 166.6L493.2 172.2M493.2 166.8L487.6 172.4" class="l"/>
<circle cx="490.40" cy="169.50" r="1.30" class="b"/>
<circle cx="488.00" cy="167.40" r="0.80" class="b"/>
<circle cx="492.80" cy="171.80" r="0.80" class="b"/>
<circle cx="492.60" cy="167.20" r="0.80" class="b"/>
<path d="M465.0 159.2H501.2V164.6H499.4V166.4H497.6V163.4H468.8V166.4H467.0V164.6H465.0Z" class="lw"/>
<line x1="467.00" y1="161.00" x2="499.40" y2="161.00" class="t"/>
<path d="M479.6 160.4H499.6" stroke="#444" stroke-width="1.7" fill="none" stroke-dasharray="1.4 0.7"/>
<path d="M474.4 163.4V166.6M478.6 163.4V165.8" stroke="#111" stroke-width="1.1" fill="none"/>
<path d="M470.6 159.2V154.6H469.6Q468.8 154.6 468.8 153.6V152.2Q468.8 151.0 470.0 151.0H477.4Q478.6 151.0 478.6 152.2V153.6Q478.6 154.6 477.8 154.6H476.4V159.2Z" class="lw"/>
<line x1="470.60" y1="154.60" x2="476.40" y2="154.60" class="l"/>
<line x1="473.50" y1="154.60" x2="473.50" y2="159.20" class="t"/>
<circle cx="477.20" cy="157.20" r="0.70" class="b"/>
<path d="M476.2 223.6H490.6V247.4H476.2Z" class="lw"/>
<path d="M478.2 223.6V236.4H488.6V223.6" class="l"/>
<path d="M479.4 236.4V246.8H487.6V236.4" class="l"/>
<line x1="476.20" y1="236.40" x2="490.60" y2="236.40" class="l"/>
<line x1="476.20" y1="231.40" x2="478.20" y2="231.40" class="t"/>
<circle cx="477.00" cy="234.00" r="1.10" class="b"/>
<circle cx="492.20" cy="233.80" r="1.30" class="b"/>
<circle cx="489.40" cy="238.40" r="1.20" class="b"/>
<circle cx="478.60" cy="247.00" r="1.20" class="b"/>
<path d="M474.6 230.6Q473.6 232.4 474.6 234.2" class="l"/>
<path d="M494 235.4H507.4V260.6H497.4V248.4H494Z" class="lw"/>
<line x1="497.40" y1="248.40" x2="507.40" y2="248.40" class="l"/>
<path d="M494 241.6L503.4 235.4M494 246.6L507.4 237.6M499 248.4L507.4 242.6" class="h"/>
<path d="M490.6 239H500.6V242H490.6M490.6 244.4H498V246.6H490.6" class="l"/>
<path d="M505.8 248.4V260.6" stroke="#333" stroke-width="1.0" fill="none" stroke-dasharray="1 1"/>
<line x1="499.00" y1="258.80" x2="503.00" y2="258.80" class="t"/>
<path d="M473.4 250Q471.6 250 471.6 251.8V256.2Q471.6 258 473.4 258H493Q494.8 258 494.8 256.2V251.8Q494.8 250 493 250Z" class="lw"/>
<path d="M474.8 250V247.4H492V250" class="l"/>
<path d="M475 252.6H491.4V255.2H475Z" class="l"/>
<path d="M473.4 250V258M493 250V258" class="t"/>
<path d="M476 258V263.2H490V258" class="lw"/>
<path d="M479.6 258V263.2M486.4 258V263.2M482.2 259.6V263.2M484.4 259.6V263.2" class="l"/>
<path d="M477.4 263.2H488.6V274.6H477.4Z" class="lw"/>
<path d="M477.4 266.8H488.6M477.4 270.6H488.6" class="l"/>
<path d="M477.4 265H488.6M477.4 268.8H488.6M477.4 272.6H488.6" class="t" opacity="0.6"/>
<path d="M471.6 250.6Q459 252.4 455.8 264" class="l"/>
<path d="M456.3 264H462V287.3H456.3Z" class="lw"/>
<path d="M454.2 266V285.4" stroke="#111" stroke-width="1.3" fill="none"/>
<line x1="460.40" y1="264.00" x2="460.40" y2="287.30" class="t"/>
<path d="M454.2 271.2L451.4 273.6V277.6L454.2 280.4M451.4 275.6H454.2M452.2 272.8L454.2 274.6" class="l"/>
<line x1="483.50" y1="157.00" x2="483.50" y2="277.00" class="t" opacity="0.85"/>
</g>
<g transform="translate(-1.60 164.20)">
<path d="M452.7 198.0H469V203L471 205.5V222L469 224.6V229.6H452.7Z" fill="#fff" stroke="none"/>
<path d="M454.6 198.0H467A2.25 2.25 0 0 1 467 202.5H454.6A2.25 2.25 0 0 1 454.6 198.0Z" class="lw"/>
<path d="M454.6 225.0H467A2.25 2.25 0 0 1 467 229.5H454.6A2.25 2.25 0 0 1 454.6 225.0Z" class="lw"/>
<path d="M455.00 202.10L457.60 198.40M458.40 202.10L461.00 198.40M461.80 202.10L464.40 198.40" class="h"/>
<path d="M455.00 229.10L457.60 225.40M458.40 229.10L461.00 225.40M461.80 229.10L464.40 225.40" class="h"/>
<path d="M455.0 202.5V225M467.7 202.5V225M469.4 202.0V225.4" class="l"/>
<path d="M469.2 202.3L471 205.5M469.2 225.2L471 222" class="l"/>
<circle cx="453.60" cy="200.20" r="1.10" class="b"/>
<circle cx="453.60" cy="227.40" r="1.10" class="b"/>
<path d="M470.6 205.5H475V192.8H490.8V203.2H494V248H476.4V223.4H470.6Z" fill="#fff" stroke="none"/>
<path d="M471 205.5V222" class="l"/>
<path d="M471 205.5H475L483.2 214.5L477 221.6H471" class="l"/>
<path d="M475 205.5V201M477 221.6L476.5 223.4V246" class="l"/>
<path d="M470.4 223.2H476.5" class="l"/>
<path d="M490.6 193V246" class="l"/>
<path d="M493.8 203V236" class="l"/>
<path d="M492.3 200V236" stroke="#333" stroke-width="1.6" fill="none" stroke-dasharray="1 1.2"/>
<path d="M490.8 203.2H494" class="t"/>
<line x1="448.00" y1="214.40" x2="497.50" y2="214.40" class="c"/>
<path d="M473.4 192.8H493.4V200.4L491.6 202.8H475.2L473.4 200.4Z" class="lw"/>
<path d="M476.6 194.6V202.8M490.8 194.6V202.8" class="l"/>
<line x1="473.40" y1="194.60" x2="493.40" y2="194.60" class="l"/>
<circle cx="477.60" cy="196.80" r="1.00" class="b"/>
<circle cx="489.80" cy="196.80" r="1.00" class="b"/>
<path d="M478.2 196V201.4M489.2 196V201.4" stroke="#111" stroke-width="1.1" fill="none"/>
<path d="M468.4 164.6H498.4V191.2Q498.4 193 496.6 193H470.2Q468.4 193 468.4 191.2Z" class="lw"/>
<path d="M497.0 167V191" stroke="#333" stroke-width="1.0" fill="none" stroke-dasharray="1.2 1.2"/>
<path d="M469.8 167V191" class="t" opacity="0.7"/>
<line x1="470.50" y1="191.40" x2="496.50" y2="191.40" class="t"/>
<path d="M470.6 175.2H485.4V180.6H493.2V190.6H470.6Z" class="lw"/>
<path d="M470.60 186.70L474.50 190.60M470.60 180.70L480.50 190.60M471.10 175.20L486.50 190.60M477.10 175.20L492.50 190.60M483.10 175.20L493.20 185.30" stroke="#111" stroke-width="1.15" fill="none"/>
<path d="M472.2 171.4L487.2 168.4" class="l"/>
<path d="M472.0 170.0H477.6L478.4 171.8H472.8Z" class="b"/>
<circle cx="490.40" cy="169.50" r="2.90" class="lw"/>
<path d="M487.4 166.6L493.2 172.2M493.2 166.8L487.6 172.4" class="l"/>
<circle cx="490.40" cy="169.50" r="1.30" class="b"/>
<circle cx="488.00" cy="167.40" r="0.80" class="b"/>
<circle cx="492.80" cy="171.80" r="0.80" class="b"/>
<circle cx="492.60" cy="167.20" r="0.80" class="b"/>
<path d="M465.0 159.2H501.2V164.6H499.4V166.4H497.6V163.4H468.8V166.4H467.0V164.6H465.0Z" class="lw"/>
<line x1="467.00" y1="161.00" x2="499.40" y2="161.00" class="t"/>
<path d="M479.6 160.4H499.6" stroke="#444" stroke-width="1.7" fill="none" stroke-dasharray="1.4 0.7"/>
<path d="M474.4 163.4V166.6M478.6 163.4V165.8" stroke="#111" stroke-width="1.1" fill="none"/>
<path d="M470.6 159.2V154.6H469.6Q468.8 154.6 468.8 153.6V152.2Q468.8 151.0 470.0 151.0H477.4Q478.6 151.0 478.6 152.2V153.6Q478.6 154.6 477.8 154.6H476.4V159.2Z" class="lw"/>
<line x1="470.60" y1="154.60" x2="476.40" y2="154.60" class="l"/>
<line x1="473.50" y1="154.60" x2="473.50" y2="159.20" class="t"/>
<circle cx="477.20" cy="157.20" r="0.70" class="b"/>
<path d="M476.2 223.6H490.6V247.4H476.2Z" class="lw"/>
<path d="M478.2 223.6V236.4H488.6V223.6" class="l"/>
<path d="M479.4 236.4V246.8H487.6V236.4" class="l"/>
<line x1="476.20" y1="236.40" x2="490.60" y2="236.40" class="l"/>
<line x1="476.20" y1="231.40" x2="478.20" y2="231.40" class="t"/>
<circle cx="477.00" cy="234.00" r="1.10" class="b"/>
<circle cx="492.20" cy="233.80" r="1.30" class="b"/>
<circle cx="489.40" cy="238.40" r="1.20" class="b"/>
<circle cx="478.60" cy="247.00" r="1.20" class="b"/>
<path d="M474.6 230.6Q473.6 232.4 474.6 234.2" class="l"/>
<path d="M494 235.4H507.4V260.6H497.4V248.4H494Z" class="lw"/>
<line x1="497.40" y1="248.40" x2="507.40" y2="248.40" class="l"/>
<path d="M494 241.6L503.4 235.4M494 246.6L507.4 237.6M499 248.4L507.4 242.6" class="h"/>
<path d="M490.6 239H500.6V242H490.6M490.6 244.4H498V246.6H490.6" class="l"/>
<path d="M505.8 248.4V260.6" stroke="#333" stroke-width="1.0" fill="none" stroke-dasharray="1 1"/>
<line x1="499.00" y1="258.80" x2="503.00" y2="258.80" class="t"/>
<path d="M473.4 250Q471.6 250 471.6 251.8V256.2Q471.6 258 473.4 258H493Q494.8 258 494.8 256.2V251.8Q494.8 250 493 250Z" class="lw"/>
<path d="M474.8 250V247.4H492V250" class="l"/>
<path d="M475 252.6H491.4V255.2H475Z" class="l"/>
<path d="M473.4 250V258M493 250V258" class="t"/>
<path d="M476 258V263.2H490V258" class="lw"/>
<path d="M479.6 258V263.2M486.4 258V263.2M482.2 259.6V263.2M484.4 259.6V263.2" class="l"/>
<path d="M477.4 263.2H488.6V274.6H477.4Z" class="lw"/>
<path d="M477.4 266.8H488.6M477.4 270.6H488.6" class="l"/>
<path d="M477.4 265H488.6M477.4 268.8H488.6M477.4 272.6H488.6" class="t" opacity="0.6"/>
<path d="M471.6 250.6Q459 252.4 455.8 264" class="l"/>
<path d="M456.3 264H462V287.3H456.3Z" class="lw"/>
<path d="M454.2 266V285.4" stroke="#111" stroke-width="1.3" fill="none"/>
<line x1="460.40" y1="264.00" x2="460.40" y2="287.30" class="t"/>
<path d="M454.2 271.2L451.4 273.6V277.6L454.2 280.4M451.4 275.6H454.2M452.2 272.8L454.2 274.6" class="l"/>
<line x1="483.50" y1="157.00" x2="483.50" y2="277.00" class="t" opacity="0.85"/>
</g>
<g id="texts">
<text x="275.20" y="134.70" class="big" text-anchor="start" textLength="32.50" lengthAdjust="spacingAndGlyphs">510</text>
<text x="40.40" y="302.10" class="big" text-anchor="start" textLength="33.20" lengthAdjust="spacingAndGlyphs">208</text>
<text x="529.00" y="310.00" class="big" text-anchor="start" textLength="33.40" lengthAdjust="spacingAndGlyphs">370</text>
<text x="183.60" y="431.00" class="big" text-anchor="start" textLength="20.80" lengthAdjust="spacingAndGlyphs">50</text>
<text x="73.20" y="212.50" class="sm" text-anchor="start" textLength="27.00" lengthAdjust="spacingAndGlyphs">26x34</text>
<text x="78.80" y="221.60" class="sm" text-anchor="start" textLength="13.40" lengthAdjust="spacingAndGlyphs">(1')</text>
<text x="109.50" y="321.60" class="sm" text-anchor="start" textLength="36.80" lengthAdjust="spacingAndGlyphs">M30x1.5</text>
<text x="74.60" y="376.40" class="sm" text-anchor="start" textLength="26.80" lengthAdjust="spacingAndGlyphs">26x34</text>
<text x="80.00" y="386.00" class="sm" text-anchor="start" textLength="13.40" lengthAdjust="spacingAndGlyphs">(1')</text>
<text x="119.30" y="432.40" class="ss" text-anchor="start" textLength="26.80" lengthAdjust="spacingAndGlyphs">20x27</text>
<text x="121.80" y="442.40" class="ss" text-anchor="start" textLength="22.20" lengthAdjust="spacingAndGlyphs">(3/4)</text>
</g>
</svg>
</body></html>
